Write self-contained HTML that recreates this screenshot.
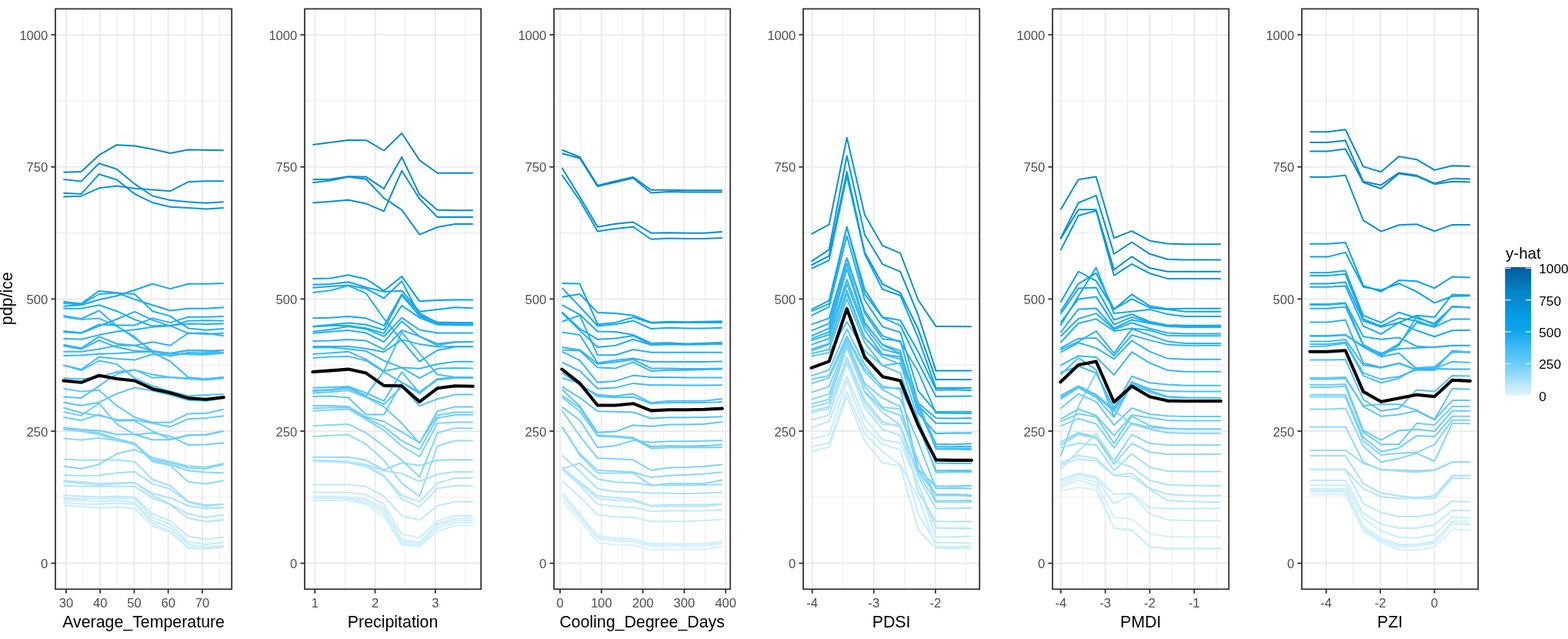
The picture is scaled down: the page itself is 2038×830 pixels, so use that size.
<!DOCTYPE html>
<html><head><meta charset="utf-8"><title>pdp/ice</title><style>html,body{margin:0;padding:0;background:#fff;width:2038px;height:830px;overflow:hidden}</style></head><body>
<svg width="2038" height="830" viewBox="0 0 2038 830" style="display:block">
<rect x="0" y="0" width="2038" height="830" fill="#fff"/>
<g><line x1="108.03" y1="11.5" x2="108.03" y2="765.3" stroke="#ebebeb" stroke-width="1.05"/><line x1="152.28" y1="11.5" x2="152.28" y2="765.3" stroke="#ebebeb" stroke-width="1.05"/><line x1="196.53" y1="11.5" x2="196.53" y2="765.3" stroke="#ebebeb" stroke-width="1.05"/><line x1="240.78" y1="11.5" x2="240.78" y2="765.3" stroke="#ebebeb" stroke-width="1.05"/><line x1="285.02" y1="11.5" x2="285.02" y2="765.3" stroke="#ebebeb" stroke-width="1.05"/><line x1="72.0" y1="645.80" x2="301.2" y2="645.80" stroke="#ebebeb" stroke-width="1.05"/><line x1="72.0" y1="474.20" x2="301.2" y2="474.20" stroke="#ebebeb" stroke-width="1.05"/><line x1="72.0" y1="302.60" x2="301.2" y2="302.60" stroke="#ebebeb" stroke-width="1.05"/><line x1="72.0" y1="131.00" x2="301.2" y2="131.00" stroke="#ebebeb" stroke-width="1.05"/><line x1="85.90" y1="11.5" x2="85.90" y2="765.3" stroke="#ebebeb" stroke-width="2.05"/><line x1="130.15" y1="11.5" x2="130.15" y2="765.3" stroke="#ebebeb" stroke-width="2.05"/><line x1="174.40" y1="11.5" x2="174.40" y2="765.3" stroke="#ebebeb" stroke-width="2.05"/><line x1="218.65" y1="11.5" x2="218.65" y2="765.3" stroke="#ebebeb" stroke-width="2.05"/><line x1="262.90" y1="11.5" x2="262.90" y2="765.3" stroke="#ebebeb" stroke-width="2.05"/><line x1="72.0" y1="731.60" x2="301.2" y2="731.60" stroke="#ebebeb" stroke-width="2.05"/><line x1="72.0" y1="560.00" x2="301.2" y2="560.00" stroke="#ebebeb" stroke-width="2.05"/><line x1="72.0" y1="388.40" x2="301.2" y2="388.40" stroke="#ebebeb" stroke-width="2.05"/><line x1="72.0" y1="216.80" x2="301.2" y2="216.80" stroke="#ebebeb" stroke-width="2.05"/><line x1="72.0" y1="45.20" x2="301.2" y2="45.20" stroke="#ebebeb" stroke-width="2.05"/></g>
<g><polyline points="82.4,223.7 105.6,223.1 128.7,201.4 151.9,188.2 175.0,189.5 198.2,193.8 221.3,199.0 244.5,194.4 267.6,194.9 290.8,195.3" fill="none" stroke="#048ace" stroke-width="2.0" stroke-linejoin="round" stroke-linecap="butt"/><polyline points="82.4,233.0 105.6,235.6 128.7,212.2 151.9,219.8 175.0,238.9 198.2,254.5 221.3,260.1 244.5,262.3 267.6,263.8 290.8,262.3" fill="none" stroke="#0592d8" stroke-width="2.0" stroke-linejoin="round" stroke-linecap="butt"/><polyline points="82.4,250.8 105.6,251.9 128.7,226.3 151.9,233.5 175.0,251.9 198.2,263.2 221.3,268.8 244.5,269.9 267.6,271.4 290.8,269.9" fill="none" stroke="#0594da" stroke-width="2.0" stroke-linejoin="round" stroke-linecap="butt"/><polyline points="82.4,255.6 105.6,254.7 128.7,244.3 151.9,241.5 175.0,244.7 198.2,246.5 221.3,248.2 244.5,236.3 267.6,235.2 290.8,235.2" fill="none" stroke="#0592d7" stroke-width="2.0" stroke-linejoin="round" stroke-linecap="butt"/><polyline points="82.4,397.8 105.6,396.2 128.7,389.3 151.9,384.3 175.0,376.7 198.2,368.7 221.3,375.1 244.5,368.7 267.6,368.7 290.8,368.0" fill="none" stroke="#13a7ee" stroke-width="2.0" stroke-linejoin="round" stroke-linecap="butt"/><polyline points="82.4,391.8 105.6,394.4 128.7,377.9 151.9,380.2 175.0,388.9 198.2,396.2 221.3,403.5 244.5,400.8 267.6,400.8 290.8,399.2" fill="none" stroke="#17a9ee" stroke-width="2.0" stroke-linejoin="round" stroke-linecap="butt"/><polyline points="82.4,393.9 105.6,395.5 128.7,382.0 151.9,380.6 175.0,382.0 198.2,404.2 221.3,410.6 244.5,426.4 267.6,428.7 290.8,427.1" fill="none" stroke="#20adf0" stroke-width="2.0" stroke-linejoin="round" stroke-linecap="butt"/><polyline points="82.4,400.8 105.6,400.8 128.7,396.2 151.9,404.2 175.0,415.0 198.2,423.6 221.3,422.5 244.5,420.4 267.6,420.9 290.8,420.4" fill="none" stroke="#21adf0" stroke-width="2.0" stroke-linejoin="round" stroke-linecap="butt"/><polyline points="82.4,409.9 105.6,414.0 128.7,403.5 151.9,423.6 175.0,439.2 198.2,455.7 221.3,459.1 244.5,455.0 267.6,455.7 290.8,455.0" fill="none" stroke="#31b4f2" stroke-width="2.0" stroke-linejoin="round" stroke-linecap="butt"/><polyline points="82.4,411.8 105.6,415.0 128.7,413.6 151.9,423.6 175.0,437.4 198.2,458.0 221.3,469.4 244.5,490.0 267.6,492.3 290.8,490.0" fill="none" stroke="#3fbaf3" stroke-width="2.0" stroke-linejoin="round" stroke-linecap="butt"/><polyline points="82.4,430.1 105.6,432.3 128.7,421.4 151.9,422.5 175.0,422.5 198.2,413.4 221.3,419.1 244.5,411.8 267.6,411.8 290.8,411.1" fill="none" stroke="#25aff0" stroke-width="2.0" stroke-linejoin="round" stroke-linecap="butt"/><polyline points="82.4,431.2 105.6,432.8 128.7,423.6 151.9,414.5 175.0,404.9 198.2,415.6 221.3,423.6 244.5,416.8 267.6,416.3 290.8,416.8" fill="none" stroke="#25aff0" stroke-width="2.0" stroke-linejoin="round" stroke-linecap="butt"/><polyline points="82.4,439.7 105.6,440.8 128.7,435.1 151.9,430.5 175.0,428.2 198.2,424.8 221.3,423.2 244.5,432.8 267.6,433.9 290.8,432.8" fill="none" stroke="#2bb1f1" stroke-width="2.0" stroke-linejoin="round" stroke-linecap="butt"/><polyline points="82.4,447.7 105.6,452.3 128.7,437.4 151.9,446.5 175.0,448.8 198.2,444.2 221.3,448.8 244.5,432.8 267.6,432.8 290.8,436.2" fill="none" stroke="#31b3f2" stroke-width="2.0" stroke-linejoin="round" stroke-linecap="butt"/><polyline points="82.4,449.3 105.6,453.4 128.7,442.0 151.9,451.1 175.0,455.7 198.2,456.8 221.3,459.1 244.5,455.2 267.6,455.2 290.8,458.0" fill="none" stroke="#36b6f2" stroke-width="2.0" stroke-linejoin="round" stroke-linecap="butt"/><polyline points="82.4,456.8 105.6,456.8 128.7,453.4 151.9,448.8 175.0,448.8 198.2,455.7 221.3,462.6 244.5,458.0 267.6,459.1 290.8,458.0" fill="none" stroke="#38b7f2" stroke-width="2.0" stroke-linejoin="round" stroke-linecap="butt"/><polyline points="82.4,462.1 105.6,461.4 128.7,459.8 151.9,459.1 175.0,457.5 198.2,456.8 221.3,459.1 244.5,460.3 267.6,460.7 290.8,458.4" fill="none" stroke="#39b7f3" stroke-width="2.0" stroke-linejoin="round" stroke-linecap="butt"/><polyline points="82.4,474.5 105.6,479.7 128.7,463.7 151.9,466.0 175.0,467.6 198.2,460.3 221.3,461.4 244.5,459.1 267.6,458.0 290.8,458.0" fill="none" stroke="#40bbf3" stroke-width="2.0" stroke-linejoin="round" stroke-linecap="butt"/><polyline points="82.4,491.2 105.6,492.3 128.7,490.0 151.9,483.1 175.0,480.4 198.2,486.6 221.3,490.0 244.5,491.2 267.6,492.3 290.8,490.0" fill="none" stroke="#48bef4" stroke-width="2.0" stroke-linejoin="round" stroke-linecap="butt"/><polyline points="82.4,555.2 105.6,557.9 128.7,559.3 151.9,564.3 175.0,564.3 198.2,571.2 221.3,571.2 244.5,565.5 267.6,564.8 290.8,559.7" fill="none" stroke="#6ecef6" stroke-width="2.0" stroke-linejoin="round" stroke-linecap="butt"/><polyline points="82.4,557.0 105.6,559.3 128.7,562.0 151.9,570.0 175.0,575.8 198.2,596.4 221.3,600.9 244.5,607.8 267.6,608.9 290.8,603.2" fill="none" stroke="#82d5f7" stroke-width="2.0" stroke-linejoin="round" stroke-linecap="butt"/><polyline points="82.4,557.9 105.6,560.2 128.7,564.3 151.9,572.3 175.0,576.9 198.2,598.6 221.3,603.2 244.5,611.2 267.6,613.5 290.8,614.2" fill="none" stroke="#85d6f7" stroke-width="2.0" stroke-linejoin="round" stroke-linecap="butt"/><polyline points="82.4,569.4 105.6,571.6 128.7,568.9 151.9,572.3 175.0,576.9 198.2,599.8 221.3,604.4 244.5,626.1 267.6,628.4 290.8,624.3" fill="none" stroke="#8cd8f7" stroke-width="2.0" stroke-linejoin="round" stroke-linecap="butt"/><polyline points="82.4,596.4 105.6,597.7 128.7,597.5 151.9,597.5 175.0,599.8 198.2,622.7 221.3,630.7 244.5,651.3 267.6,655.9 290.8,654.7" fill="none" stroke="#a0dff8" stroke-width="2.0" stroke-linejoin="round" stroke-linecap="butt"/><polyline points="82.4,605.5 105.6,608.9 128.7,603.2 151.9,589.5 175.0,583.8 198.2,594.1 221.3,599.8 244.5,605.5 267.6,606.7 290.8,602.1" fill="none" stroke="#87d6f7" stroke-width="2.0" stroke-linejoin="round" stroke-linecap="butt"/><polyline points="82.4,617.0 105.6,618.1 128.7,617.4 151.9,614.2 175.0,612.8 198.2,628.4 221.3,635.3 244.5,652.4 267.6,658.1 290.8,654.7" fill="none" stroke="#a5e0f8" stroke-width="2.0" stroke-linejoin="round" stroke-linecap="butt"/><polyline points="82.4,624.3 105.6,626.1 128.7,627.9 151.9,627.3 175.0,626.6 198.2,641.0 221.3,646.7 244.5,657.0 267.6,660.4 290.8,659.3" fill="none" stroke="#a9e2f9" stroke-width="2.0" stroke-linejoin="round" stroke-linecap="butt"/><polyline points="82.4,625.7 105.6,627.9 128.7,630.2 151.9,628.4 175.0,627.3 198.2,643.3 221.3,654.7 244.5,667.3 267.6,671.9 290.8,668.4" fill="none" stroke="#afe4f9" stroke-width="2.0" stroke-linejoin="round" stroke-linecap="butt"/><polyline points="82.4,630.7 105.6,631.8 128.7,631.8 151.9,631.8 175.0,631.8 198.2,646.7 221.3,655.9 244.5,673.0 267.6,677.6 290.8,675.3" fill="none" stroke="#b2e5f9" stroke-width="2.0" stroke-linejoin="round" stroke-linecap="butt"/><polyline points="82.4,643.3 105.6,644.4 128.7,645.6 151.9,644.4 175.0,645.6 198.2,667.3 221.3,676.5 244.5,696.6 267.6,700.5 290.8,697.5" fill="none" stroke="#c0e9fa" stroke-width="2.0" stroke-linejoin="round" stroke-linecap="butt"/><polyline points="82.4,646.7 105.6,647.8 128.7,647.8 151.9,646.7 175.0,647.8 198.2,671.9 221.3,681.0 244.5,703.9 267.6,707.3 290.8,704.4" fill="none" stroke="#c4ebfb" stroke-width="2.0" stroke-linejoin="round" stroke-linecap="butt"/><polyline points="82.4,649.0 105.6,650.1 128.7,651.3 151.9,650.1 175.0,652.4 198.2,676.5 221.3,685.6 244.5,707.3 267.6,710.8 290.8,708.5" fill="none" stroke="#c6ebfb" stroke-width="2.0" stroke-linejoin="round" stroke-linecap="butt"/><polyline points="82.4,652.4 105.6,654.7 128.7,654.7 151.9,653.6 175.0,654.7 198.2,679.9 221.3,690.2 244.5,710.8 267.6,713.1 290.8,710.3" fill="none" stroke="#c8ecfb" stroke-width="2.0" stroke-linejoin="round" stroke-linecap="butt"/><polyline points="82.4,656.3 105.6,658.1 128.7,659.7 151.9,658.6 175.0,660.4 198.2,683.3 221.3,691.3 244.5,711.9 267.6,713.1 290.8,710.8" fill="none" stroke="#c9ecfb" stroke-width="2.0" stroke-linejoin="round" stroke-linecap="butt"/><polyline points="82.4,504.7 105.6,508.6 128.7,506.7 151.9,527.2 175.0,541.9 198.2,548.7 221.3,548.7 244.5,537.4 267.6,536.8 290.8,531.8" fill="none" stroke="#5fc8f5" stroke-width="2.0" stroke-linejoin="round" stroke-linecap="butt"/><polyline points="82.4,515.4 105.6,516.9 128.7,501.3 151.9,485.6 175.0,480.4 198.2,490.6 221.3,490.0 244.5,492.3 267.6,493.4 290.8,491.2" fill="none" stroke="#50c1f4" stroke-width="2.0" stroke-linejoin="round" stroke-linecap="butt"/><polyline points="82.4,522.7 105.6,526.7 128.7,522.7 151.9,511.4 175.0,503.5 198.2,507.5 221.3,513.1 244.5,519.9 267.6,520.7 290.8,517.6" fill="none" stroke="#57c4f5" stroke-width="2.0" stroke-linejoin="round" stroke-linecap="butt"/><polyline points="82.4,529.5 105.6,536.3 128.7,539.7 151.9,545.3 175.0,545.3 198.2,549.8 221.3,554.3 244.5,544.2 267.6,543.0 290.8,540.2" fill="none" stroke="#64caf6" stroke-width="2.0" stroke-linejoin="round" stroke-linecap="butt"/><polyline points="82.4,535.1 105.6,539.7 128.7,523.9 151.9,550.9 175.0,564.5 198.2,562.2 221.3,566.7 244.5,578.0 267.6,577.5 290.8,575.2" fill="none" stroke="#6ecff6" stroke-width="2.0" stroke-linejoin="round" stroke-linecap="butt"/><polyline points="82.4,541.9 105.6,545.9 128.7,538.5 151.9,546.4 175.0,546.4 198.2,560.0 221.3,570.7 244.5,565.0 267.6,564.5 290.8,560.0" fill="none" stroke="#6bcdf6" stroke-width="2.0" stroke-linejoin="round" stroke-linecap="butt"/><polyline points="82.4,474.2 105.6,481.0 128.7,468.6 151.9,473.1 175.0,491.1 198.2,501.3 221.3,508.1 244.5,514.3 267.6,513.1 290.8,512.0" fill="none" stroke="#4fc1f4" stroke-width="2.0" stroke-linejoin="round" stroke-linecap="butt"/></g>
<polyline points="82.4,494.5 105.6,496.8 128.7,487.7 151.9,492.0 175.0,494.5 198.2,505.2 221.3,510.3 244.5,517.1 267.6,518.8 290.8,516.0" fill="none" stroke="#000" stroke-width="4.1" stroke-linejoin="round" stroke-linecap="round"/>
<rect x="72.0" y="11.5" width="229.2" height="753.8" fill="none" stroke="#333" stroke-width="1.8"/>
<g font-family='"Liberation Sans", Arial, sans-serif' font-size="16.6" fill="#4d4d4d"><line x1="66.40" y1="731.60" x2="72.0" y2="731.60" stroke="#333" stroke-width="1.8"/><text x="62.30" y="738.10" text-anchor="end">0</text><line x1="66.40" y1="560.00" x2="72.0" y2="560.00" stroke="#333" stroke-width="1.8"/><text x="62.30" y="566.50" text-anchor="end">250</text><line x1="66.40" y1="388.40" x2="72.0" y2="388.40" stroke="#333" stroke-width="1.8"/><text x="62.30" y="394.90" text-anchor="end">500</text><line x1="66.40" y1="216.80" x2="72.0" y2="216.80" stroke="#333" stroke-width="1.8"/><text x="62.30" y="223.30" text-anchor="end">750</text><line x1="66.40" y1="45.20" x2="72.0" y2="45.20" stroke="#333" stroke-width="1.8"/><text x="62.30" y="51.70" text-anchor="end">1000</text><line x1="85.90" y1="765.3" x2="85.90" y2="770.80" stroke="#333" stroke-width="1.8"/><text x="85.90" y="789.0" text-anchor="middle">30</text><line x1="130.15" y1="765.3" x2="130.15" y2="770.80" stroke="#333" stroke-width="1.8"/><text x="130.15" y="789.0" text-anchor="middle">40</text><line x1="174.40" y1="765.3" x2="174.40" y2="770.80" stroke="#333" stroke-width="1.8"/><text x="174.40" y="789.0" text-anchor="middle">50</text><line x1="218.65" y1="765.3" x2="218.65" y2="770.80" stroke="#333" stroke-width="1.8"/><text x="218.65" y="789.0" text-anchor="middle">60</text><line x1="262.90" y1="765.3" x2="262.90" y2="770.80" stroke="#333" stroke-width="1.8"/><text x="262.90" y="789.0" text-anchor="middle">70</text></g>
<text x="186.60" y="814.8" text-anchor="middle" font-family='"Liberation Sans", Arial, sans-serif' font-size="21.35" fill="#000">Average_Temperature</text>
<g><line x1="448.43" y1="11.5" x2="448.43" y2="765.3" stroke="#ebebeb" stroke-width="1.05"/><line x1="526.67" y1="11.5" x2="526.67" y2="765.3" stroke="#ebebeb" stroke-width="1.05"/><line x1="604.92" y1="11.5" x2="604.92" y2="765.3" stroke="#ebebeb" stroke-width="1.05"/><line x1="396.0" y1="645.80" x2="625.2" y2="645.80" stroke="#ebebeb" stroke-width="1.05"/><line x1="396.0" y1="474.20" x2="625.2" y2="474.20" stroke="#ebebeb" stroke-width="1.05"/><line x1="396.0" y1="302.60" x2="625.2" y2="302.60" stroke="#ebebeb" stroke-width="1.05"/><line x1="396.0" y1="131.00" x2="625.2" y2="131.00" stroke="#ebebeb" stroke-width="1.05"/><line x1="409.30" y1="11.5" x2="409.30" y2="765.3" stroke="#ebebeb" stroke-width="2.05"/><line x1="487.55" y1="11.5" x2="487.55" y2="765.3" stroke="#ebebeb" stroke-width="2.05"/><line x1="565.80" y1="11.5" x2="565.80" y2="765.3" stroke="#ebebeb" stroke-width="2.05"/><line x1="396.0" y1="731.60" x2="625.2" y2="731.60" stroke="#ebebeb" stroke-width="2.05"/><line x1="396.0" y1="560.00" x2="625.2" y2="560.00" stroke="#ebebeb" stroke-width="2.05"/><line x1="396.0" y1="388.40" x2="625.2" y2="388.40" stroke="#ebebeb" stroke-width="2.05"/><line x1="396.0" y1="216.80" x2="625.2" y2="216.80" stroke="#ebebeb" stroke-width="2.05"/><line x1="396.0" y1="45.20" x2="625.2" y2="45.20" stroke="#ebebeb" stroke-width="2.05"/></g>
<g><polyline points="406.4,187.9 429.6,184.9 452.7,182.0 475.9,182.2 499.0,195.5 522.2,173.0 545.3,208.1 568.5,224.8 591.6,224.8 614.8,224.8" fill="none" stroke="#0489cd" stroke-width="2.0" stroke-linejoin="round" stroke-linecap="butt"/><polyline points="406.4,233.2 429.6,232.8 452.7,229.3 475.9,229.8 499.0,245.1 522.2,203.9 545.3,252.7 568.5,272.8 591.6,273.3 614.8,273.3" fill="none" stroke="#048bcf" stroke-width="2.0" stroke-linejoin="round" stroke-linecap="butt"/><polyline points="406.4,237.3 429.6,234.4 452.7,229.8 475.9,232.8 499.0,257.3 522.2,272.6 545.3,304.6 568.5,295.0 591.6,290.9 614.8,290.9" fill="none" stroke="#0591d7" stroke-width="2.0" stroke-linejoin="round" stroke-linecap="butt"/><polyline points="406.4,263.4 429.6,261.8 452.7,259.8 475.9,264.6 499.0,274.4 522.2,221.8 545.3,258.4 568.5,282.0 591.6,282.0 614.8,282.0" fill="none" stroke="#048cd1" stroke-width="2.0" stroke-linejoin="round" stroke-linecap="butt"/><polyline points="406.4,503.7 429.6,503.0 452.7,502.0 475.9,510.4 499.0,520.8 522.2,483.2 545.3,510.3 568.5,493.4 591.6,491.1 614.8,491.1" fill="none" stroke="#50c1f4" stroke-width="2.0" stroke-linejoin="round" stroke-linecap="butt"/><polyline points="406.4,507.0 429.6,505.9 452.7,502.9 475.9,513.9 499.0,481.9 522.2,431.5 545.3,459.0 568.5,486.5 591.6,489.9 614.8,489.9" fill="none" stroke="#49bef4" stroke-width="2.0" stroke-linejoin="round" stroke-linecap="butt"/><polyline points="406.4,510.4 429.6,509.3 452.7,507.0 475.9,516.2 499.0,528.4 522.2,549.8 545.3,575.8 568.5,534.0 591.6,528.4 614.8,528.4" fill="none" stroke="#67ccf6" stroke-width="2.0" stroke-linejoin="round" stroke-linecap="butt"/><polyline points="406.4,515.1 429.6,514.4 452.7,516.5 475.9,538.5 499.0,538.5 522.2,496.8 545.3,511.4 568.5,492.3 591.6,490.0 614.8,490.0" fill="none" stroke="#5fc8f5" stroke-width="2.0" stroke-linejoin="round" stroke-linecap="butt"/><polyline points="406.4,526.9 429.6,526.9 452.7,528.0 475.9,541.7 499.0,547.5 522.2,561.2 545.3,574.9 568.5,539.5 591.6,535.6 614.8,535.6" fill="none" stroke="#6ccef6" stroke-width="2.0" stroke-linejoin="round" stroke-linecap="butt"/><polyline points="406.4,530.3 429.6,529.6 452.7,529.2 475.9,542.9 499.0,554.3 522.2,572.6 545.3,584.1 568.5,542.9 591.6,538.8 614.8,538.8" fill="none" stroke="#71cff6" stroke-width="2.0" stroke-linejoin="round" stroke-linecap="butt"/><polyline points="406.4,533.7 429.6,532.6 452.7,531.4 475.9,545.2 499.0,558.9 522.2,579.5 545.3,593.2 568.5,549.7 591.6,548.6 614.8,548.6" fill="none" stroke="#7fd4f7" stroke-width="2.0" stroke-linejoin="round" stroke-linecap="butt"/><polyline points="406.4,553.2 429.6,552.0 452.7,550.9 475.9,562.3 499.0,579.5 522.2,597.8 545.3,619.5 568.5,562.3 591.6,555.9 614.8,556.6" fill="none" stroke="#85d6f7" stroke-width="2.0" stroke-linejoin="round" stroke-linecap="butt"/><polyline points="406.4,566.9 429.6,565.8 452.7,564.6 475.9,577.2 499.0,597.8 522.2,627.6 545.3,644.7 568.5,579.5 591.6,572.2 614.8,572.6" fill="none" stroke="#95dbf8" stroke-width="2.0" stroke-linejoin="round" stroke-linecap="butt"/><polyline points="406.4,593.7 429.6,593.9 452.7,593.7 475.9,597.8 499.0,610.4 522.2,601.2 545.3,604.7 568.5,597.8 591.6,597.3 614.8,597.3" fill="none" stroke="#91daf8" stroke-width="2.0" stroke-linejoin="round" stroke-linecap="butt"/><polyline points="406.4,597.8 429.6,598.3 452.7,599.6 475.9,603.5 499.0,611.5 522.2,615.0 545.3,625.3 568.5,616.1 591.6,612.7 614.8,613.1" fill="none" stroke="#a6e1f9" stroke-width="2.0" stroke-linejoin="round" stroke-linecap="butt"/><polyline points="406.4,598.3 429.6,598.9 452.7,600.1 475.9,604.7 499.0,617.3 522.2,643.6 545.3,651.6 568.5,627.6 591.6,620.7 614.8,621.1" fill="none" stroke="#afe4f9" stroke-width="2.0" stroke-linejoin="round" stroke-linecap="butt"/><polyline points="406.4,599.6 429.6,600.1 452.7,601.2 475.9,606.5 499.0,618.9 522.2,648.1 545.3,658.4 568.5,634.4 591.6,631.0 614.8,631.0" fill="none" stroke="#b5e6fa" stroke-width="2.0" stroke-linejoin="round" stroke-linecap="butt"/><polyline points="406.4,629.4 429.6,629.4 452.7,629.4 475.9,632.1 499.0,644.7 522.2,669.9 545.3,675.6 568.5,657.3 591.6,651.6 614.8,652.0" fill="none" stroke="#bde8fa" stroke-width="2.0" stroke-linejoin="round" stroke-linecap="butt"/><polyline points="406.4,639.5 429.6,639.5 452.7,639.5 475.9,642.4 499.0,655.0 522.2,693.9 545.3,698.5 568.5,676.8 591.6,669.9 614.8,669.9" fill="none" stroke="#c8ecfb" stroke-width="2.0" stroke-linejoin="round" stroke-linecap="butt"/><polyline points="406.4,644.7 429.6,644.7 452.7,645.4 475.9,648.1 499.0,659.6 522.2,700.8 545.3,704.2 568.5,680.2 591.6,673.3 614.8,672.9" fill="none" stroke="#ceeefb" stroke-width="2.0" stroke-linejoin="round" stroke-linecap="butt"/><polyline points="406.4,645.9 429.6,645.9 452.7,646.3 475.9,650.4 499.0,663.0 522.2,703.1 545.3,706.5 568.5,682.5 591.6,675.6 614.8,676.3" fill="none" stroke="#d0effc" stroke-width="2.0" stroke-linejoin="round" stroke-linecap="butt"/><polyline points="406.4,647.0 429.6,647.0 452.7,648.1 475.9,652.7 499.0,666.5 522.2,705.4 545.3,708.8 568.5,685.9 591.6,679.0 614.8,679.0" fill="none" stroke="#d0effc" stroke-width="2.0" stroke-linejoin="round" stroke-linecap="butt"/><polyline points="406.4,650.0 429.6,650.0 452.7,650.0 475.9,655.0 499.0,671.0 522.2,707.6 545.3,709.9 568.5,690.5 591.6,682.5 614.8,682.5" fill="none" stroke="#d1effc" stroke-width="2.0" stroke-linejoin="round" stroke-linecap="butt"/><polyline points="406.4,361.9 429.6,361.4 452.7,357.2 475.9,362.5 499.0,377.7 522.2,359.1 545.3,391.3 568.5,389.9 591.6,389.6 614.8,389.6" fill="none" stroke="#07a2eb" stroke-width="2.0" stroke-linejoin="round" stroke-linecap="butt"/><polyline points="406.4,369.8 429.6,368.9 452.7,366.2 475.9,373.2 499.0,378.9 522.2,377.7 545.3,404.8 568.5,402.0 591.6,399.2 614.8,400.3" fill="none" stroke="#0ca4ed" stroke-width="2.0" stroke-linejoin="round" stroke-linecap="butt"/><polyline points="406.4,373.8 429.6,372.1 452.7,370.4 475.9,374.9 499.0,387.3 522.2,365.3 545.3,409.3 568.5,418.4 591.6,418.9 614.8,418.9" fill="none" stroke="#11a7ed" stroke-width="2.0" stroke-linejoin="round" stroke-linecap="butt"/><polyline points="406.4,380.0 429.6,377.2 452.7,371.0 475.9,381.1 499.0,413.8 522.2,442.1 545.3,469.7 568.5,455.0 591.6,450.5 614.8,450.5" fill="none" stroke="#28b0f1" stroke-width="2.0" stroke-linejoin="round" stroke-linecap="butt"/><polyline points="406.4,413.3 429.6,412.7 452.7,411.0 475.9,413.3 499.0,422.9 522.2,382.2 545.3,406.5 568.5,419.5 591.6,419.5 614.8,419.5" fill="none" stroke="#17a9ee" stroke-width="2.0" stroke-linejoin="round" stroke-linecap="butt"/><polyline points="406.4,424.0 429.6,421.7 452.7,419.5 475.9,421.7 499.0,428.5 522.2,383.4 545.3,410.5 568.5,420.6 591.6,421.2 614.8,421.2" fill="none" stroke="#19aaef" stroke-width="2.0" stroke-linejoin="round" stroke-linecap="butt"/><polyline points="406.4,424.6 429.6,422.9 452.7,422.9 475.9,426.3 499.0,433.0 522.2,396.9 545.3,412.7 568.5,421.7 591.6,422.3 614.8,422.6" fill="none" stroke="#1eacef" stroke-width="2.0" stroke-linejoin="round" stroke-linecap="butt"/><polyline points="406.4,430.8 429.6,427.9 452.7,424.0 475.9,427.4 499.0,437.0 522.2,412.7 545.3,428.5 568.5,432.5 591.6,432.5 614.8,432.5" fill="none" stroke="#23aef0" stroke-width="2.0" stroke-linejoin="round" stroke-linecap="butt"/><polyline points="406.4,433.0 429.6,430.8 452.7,429.1 475.9,432.5 499.0,444.3 522.2,417.2 545.3,437.0 568.5,446.6 591.6,444.3 614.8,444.0" fill="none" stroke="#27aff0" stroke-width="2.0" stroke-linejoin="round" stroke-linecap="butt"/><polyline points="406.4,443.1 429.6,442.6 452.7,440.9 475.9,442.6 499.0,453.9 522.2,429.0 545.3,436.9 568.5,448.8 591.6,444.3 614.8,443.9" fill="none" stroke="#2db2f1" stroke-width="2.0" stroke-linejoin="round" stroke-linecap="butt"/><polyline points="406.4,449.9 429.6,449.9 452.7,449.9 475.9,452.7 499.0,457.2 522.2,441.4 545.3,447.1 568.5,450.5 591.6,449.9 614.8,449.9" fill="none" stroke="#30b3f2" stroke-width="2.0" stroke-linejoin="round" stroke-linecap="butt"/><polyline points="406.4,451.6 429.6,451.6 452.7,453.3 475.9,456.1 499.0,468.5 522.2,477.6 545.3,478.7 568.5,473.0 591.6,469.7 614.8,469.7" fill="none" stroke="#35b5f2" stroke-width="2.0" stroke-linejoin="round" stroke-linecap="butt"/><polyline points="406.4,460.1 429.6,458.4 452.7,456.7 475.9,466.8 499.0,482.1 522.2,477.6 545.3,491.1 568.5,478.7 591.6,478.1 614.8,478.5" fill="none" stroke="#3dbaf3" stroke-width="2.0" stroke-linejoin="round" stroke-linecap="butt"/><polyline points="406.4,465.1 429.6,463.4 452.7,462.9 475.9,468.5 499.0,483.2 522.2,496.7 545.3,509.2 568.5,492.2 591.6,490.0 614.8,490.0" fill="none" stroke="#47bdf4" stroke-width="2.0" stroke-linejoin="round" stroke-linecap="butt"/><polyline points="406.4,508.1 429.6,506.9 452.7,504.4 475.9,515.1 499.0,525.0 522.2,502.4 545.3,527.2 568.5,518.2 591.6,512.6 614.8,512.6" fill="none" stroke="#5ac5f5" stroke-width="2.0" stroke-linejoin="round" stroke-linecap="butt"/></g>
<polyline points="406.4,483.0 429.6,481.4 452.7,479.6 475.9,484.6 499.0,500.9 522.2,501.3 545.3,521.9 568.5,504.3 591.6,501.3 614.8,501.8" fill="none" stroke="#000" stroke-width="4.1" stroke-linejoin="round" stroke-linecap="round"/>
<rect x="396.0" y="11.5" width="229.2" height="753.8" fill="none" stroke="#333" stroke-width="1.8"/>
<g font-family='"Liberation Sans", Arial, sans-serif' font-size="16.6" fill="#4d4d4d"><line x1="390.40" y1="731.60" x2="396.0" y2="731.60" stroke="#333" stroke-width="1.8"/><text x="386.30" y="738.10" text-anchor="end">0</text><line x1="390.40" y1="560.00" x2="396.0" y2="560.00" stroke="#333" stroke-width="1.8"/><text x="386.30" y="566.50" text-anchor="end">250</text><line x1="390.40" y1="388.40" x2="396.0" y2="388.40" stroke="#333" stroke-width="1.8"/><text x="386.30" y="394.90" text-anchor="end">500</text><line x1="390.40" y1="216.80" x2="396.0" y2="216.80" stroke="#333" stroke-width="1.8"/><text x="386.30" y="223.30" text-anchor="end">750</text><line x1="390.40" y1="45.20" x2="396.0" y2="45.20" stroke="#333" stroke-width="1.8"/><text x="386.30" y="51.70" text-anchor="end">1000</text><line x1="409.30" y1="765.3" x2="409.30" y2="770.80" stroke="#333" stroke-width="1.8"/><text x="409.30" y="789.0" text-anchor="middle">1</text><line x1="487.55" y1="765.3" x2="487.55" y2="770.80" stroke="#333" stroke-width="1.8"/><text x="487.55" y="789.0" text-anchor="middle">2</text><line x1="565.80" y1="765.3" x2="565.80" y2="770.80" stroke="#333" stroke-width="1.8"/><text x="565.80" y="789.0" text-anchor="middle">3</text></g>
<text x="510.60" y="814.8" text-anchor="middle" font-family='"Liberation Sans", Arial, sans-serif' font-size="21.35" fill="#000">Precipitation</text>
<g><line x1="754.81" y1="11.5" x2="754.81" y2="765.3" stroke="#ebebeb" stroke-width="1.05"/><line x1="808.64" y1="11.5" x2="808.64" y2="765.3" stroke="#ebebeb" stroke-width="1.05"/><line x1="862.47" y1="11.5" x2="862.47" y2="765.3" stroke="#ebebeb" stroke-width="1.05"/><line x1="916.30" y1="11.5" x2="916.30" y2="765.3" stroke="#ebebeb" stroke-width="1.05"/><line x1="720.0" y1="645.80" x2="949.2" y2="645.80" stroke="#ebebeb" stroke-width="1.05"/><line x1="720.0" y1="474.20" x2="949.2" y2="474.20" stroke="#ebebeb" stroke-width="1.05"/><line x1="720.0" y1="302.60" x2="949.2" y2="302.60" stroke="#ebebeb" stroke-width="1.05"/><line x1="720.0" y1="131.00" x2="949.2" y2="131.00" stroke="#ebebeb" stroke-width="1.05"/><line x1="727.90" y1="11.5" x2="727.90" y2="765.3" stroke="#ebebeb" stroke-width="2.05"/><line x1="781.73" y1="11.5" x2="781.73" y2="765.3" stroke="#ebebeb" stroke-width="2.05"/><line x1="835.56" y1="11.5" x2="835.56" y2="765.3" stroke="#ebebeb" stroke-width="2.05"/><line x1="889.39" y1="11.5" x2="889.39" y2="765.3" stroke="#ebebeb" stroke-width="2.05"/><line x1="943.22" y1="11.5" x2="943.22" y2="765.3" stroke="#ebebeb" stroke-width="2.05"/><line x1="720.0" y1="731.60" x2="949.2" y2="731.60" stroke="#ebebeb" stroke-width="2.05"/><line x1="720.0" y1="560.00" x2="949.2" y2="560.00" stroke="#ebebeb" stroke-width="2.05"/><line x1="720.0" y1="388.40" x2="949.2" y2="388.40" stroke="#ebebeb" stroke-width="2.05"/><line x1="720.0" y1="216.80" x2="949.2" y2="216.80" stroke="#ebebeb" stroke-width="2.05"/><line x1="720.0" y1="45.20" x2="949.2" y2="45.20" stroke="#ebebeb" stroke-width="2.05"/></g>
<g><polyline points="730.4,194.7 753.6,203.9 776.7,240.9 799.9,235.2 823.0,230.0 846.2,246.7 869.3,246.7 892.5,247.3 915.6,247.3 938.8,247.3" fill="none" stroke="#048bcf" stroke-width="2.0" stroke-linejoin="round" stroke-linecap="butt"/><polyline points="730.4,199.3 753.6,205.5 776.7,242.1 799.9,236.8 823.0,231.3 846.2,250.5 869.3,248.9 892.5,249.6 915.6,249.6 938.8,249.6" fill="none" stroke="#048bcf" stroke-width="2.0" stroke-linejoin="round" stroke-linecap="butt"/><polyline points="730.4,218.1 753.6,255.8 776.7,294.7 799.9,290.8 823.0,288.5 846.2,302.7 869.3,302.3 892.5,302.7 915.6,302.7 938.8,301.1" fill="none" stroke="#048ed2" stroke-width="2.0" stroke-linejoin="round" stroke-linecap="butt"/><polyline points="730.4,227.2 753.6,260.4 776.7,300.4 799.9,297.0 823.0,294.7 846.2,310.7 869.3,309.6 892.5,310.0 915.6,310.0 938.8,308.9" fill="none" stroke="#0696dd" stroke-width="2.0" stroke-linejoin="round" stroke-linecap="butt"/><polyline points="730.4,367.9 753.6,368.6 776.7,421.2 799.9,418.9 823.0,412.1 846.2,419.6 869.3,418.9 892.5,418.9 915.6,418.9 938.8,418.9" fill="none" stroke="#10a6ed" stroke-width="2.0" stroke-linejoin="round" stroke-linecap="butt"/><polyline points="730.4,373.9 753.6,398.4 776.7,423.5 799.9,421.2 823.0,416.7 846.2,427.0 869.3,425.8 892.5,426.5 915.6,426.5 938.8,425.8" fill="none" stroke="#16a8ee" stroke-width="2.0" stroke-linejoin="round" stroke-linecap="butt"/><polyline points="730.4,385.8 753.6,381.9 776.7,405.9 799.9,407.0 823.0,409.8 846.2,418.9 869.3,417.8 892.5,418.3 915.6,417.8 938.8,417.3" fill="none" stroke="#0ba4ec" stroke-width="2.0" stroke-linejoin="round" stroke-linecap="butt"/><polyline points="730.4,396.1 753.6,408.6 776.7,430.4 799.9,431.1 823.0,435.0 846.2,445.7 869.3,445.3 892.5,446.4 915.6,445.7 938.8,444.8" fill="none" stroke="#1babef" stroke-width="2.0" stroke-linejoin="round" stroke-linecap="butt"/><polyline points="730.4,405.2 753.6,427.0 776.7,440.7 799.9,439.5 823.0,436.1 846.2,447.6 869.3,446.4 892.5,447.6 915.6,447.6 938.8,446.4" fill="none" stroke="#1dabef" stroke-width="2.0" stroke-linejoin="round" stroke-linecap="butt"/><polyline points="730.4,406.4 753.6,429.2 776.7,451.0 799.9,448.7 823.0,440.7 846.2,448.0 869.3,447.6 892.5,447.6 915.6,447.1 938.8,447.1" fill="none" stroke="#23aef0" stroke-width="2.0" stroke-linejoin="round" stroke-linecap="butt"/><polyline points="730.4,417.8 753.6,409.8 776.7,461.3 799.9,461.3 823.0,454.0 846.2,457.8 869.3,457.8 892.5,457.8 915.6,457.8 938.8,457.8" fill="none" stroke="#28b0f1" stroke-width="2.0" stroke-linejoin="round" stroke-linecap="butt"/><polyline points="730.4,431.5 753.6,435.0 776.7,471.6 799.9,468.1 823.0,465.4 846.2,470.0 869.3,470.0 892.5,470.0 915.6,470.0 938.8,469.5" fill="none" stroke="#2db2f1" stroke-width="2.0" stroke-linejoin="round" stroke-linecap="butt"/><polyline points="730.4,451.0 753.6,454.4 776.7,472.7 799.9,470.4 823.0,467.0 846.2,478.4 869.3,478.4 892.5,479.1 915.6,479.1 938.8,478.4" fill="none" stroke="#31b4f2" stroke-width="2.0" stroke-linejoin="round" stroke-linecap="butt"/><polyline points="730.4,454.4 753.6,455.6 776.7,477.3 799.9,478.4 823.0,470.4 846.2,481.9 869.3,480.7 892.5,480.7 915.6,480.0 938.8,479.6" fill="none" stroke="#34b5f2" stroke-width="2.0" stroke-linejoin="round" stroke-linecap="butt"/><polyline points="730.4,456.7 753.6,468.1 776.7,496.8 799.9,495.1 823.0,487.6 846.2,489.9 869.3,489.9 892.5,490.6 915.6,490.6 938.8,490.6" fill="none" stroke="#38b7f3" stroke-width="2.0" stroke-linejoin="round" stroke-linecap="butt"/><polyline points="730.4,470.4 753.6,481.9 776.7,504.8 799.9,503.6 823.0,497.9 846.2,500.2 869.3,500.2 892.5,500.6 915.6,500.6 938.8,500.2" fill="none" stroke="#3fbaf3" stroke-width="2.0" stroke-linejoin="round" stroke-linecap="butt"/><polyline points="730.4,484.2 753.6,500.2 776.7,512.8 799.9,514.4 823.0,511.6 846.2,523.1 869.3,520.8 892.5,520.8 915.6,520.8 938.8,518.0" fill="none" stroke="#4bbff4" stroke-width="2.0" stroke-linejoin="round" stroke-linecap="butt"/><polyline points="730.4,491.0 753.6,497.9 776.7,515.1 799.9,516.2 823.0,515.7 846.2,524.2 869.3,523.1 892.5,523.1 915.6,523.1 938.8,521.9" fill="none" stroke="#4dc0f4" stroke-width="2.0" stroke-linejoin="round" stroke-linecap="butt"/><polyline points="730.4,502.3 753.6,516.5 776.7,534.3 799.9,534.8 823.0,535.5 846.2,543.5 869.3,542.3 892.5,542.3 915.6,541.9 938.8,541.2" fill="none" stroke="#55c3f5" stroke-width="2.0" stroke-linejoin="round" stroke-linecap="butt"/><polyline points="730.4,505.7 753.6,527.5 776.7,561.8 799.9,560.6 823.0,552.2 846.2,553.8 869.3,551.5 892.5,551.5 915.6,550.8 938.8,548.1" fill="none" stroke="#5fc8f5" stroke-width="2.0" stroke-linejoin="round" stroke-linecap="butt"/><polyline points="730.4,513.7 753.6,529.7 776.7,565.2 799.9,566.4 823.0,568.6 846.2,580.1 869.3,578.9 892.5,579.6 915.6,578.9 938.8,577.8" fill="none" stroke="#68ccf6" stroke-width="2.0" stroke-linejoin="round" stroke-linecap="butt"/><polyline points="730.4,516.0 753.6,534.3 776.7,566.4 799.9,567.5 823.0,569.8 846.2,582.4 869.3,581.2 892.5,581.2 915.6,581.2 938.8,581.2" fill="none" stroke="#72d0f6" stroke-width="2.0" stroke-linejoin="round" stroke-linecap="butt"/><polyline points="730.4,528.6 753.6,545.8 776.7,581.2 799.9,578.9 823.0,572.1 846.2,574.4 869.3,573.2 892.5,573.2 915.6,572.8 938.8,572.1" fill="none" stroke="#70cff6" stroke-width="2.0" stroke-linejoin="round" stroke-linecap="butt"/><polyline points="730.4,533.2 753.6,566.4 776.7,595.0 799.9,596.1 823.0,597.3 846.2,611.0 869.3,607.6 892.5,607.1 915.6,605.7 938.8,603.4" fill="none" stroke="#7ed3f7" stroke-width="2.0" stroke-linejoin="round" stroke-linecap="butt"/><polyline points="730.4,553.8 753.6,589.2 776.7,611.0 799.9,612.1 823.0,613.3 846.2,620.1 869.3,617.8 892.5,616.7 915.6,615.6 938.8,613.3" fill="none" stroke="#8cd8f7" stroke-width="2.0" stroke-linejoin="round" stroke-linecap="butt"/><polyline points="730.4,554.9 753.6,591.5 776.7,614.4 799.9,614.4 823.0,614.4 846.2,630.4 869.3,628.1 892.5,628.1 915.6,628.1 938.8,623.6" fill="none" stroke="#91daf8" stroke-width="2.0" stroke-linejoin="round" stroke-linecap="butt"/><polyline points="730.4,608.6 753.6,601.7 776.7,622.3 799.9,626.2 823.0,626.9 846.2,630.3 869.3,629.9 892.5,630.3 915.6,629.9 938.8,629.2" fill="none" stroke="#98dcf8" stroke-width="2.0" stroke-linejoin="round" stroke-linecap="butt"/><polyline points="730.4,591.4 753.6,612.0 776.7,634.9 799.9,638.4 823.0,639.0 846.2,640.6 869.3,640.6 892.5,641.3 915.6,640.6 938.8,639.5" fill="none" stroke="#a7e1f9" stroke-width="2.0" stroke-linejoin="round" stroke-linecap="butt"/><polyline points="730.4,607.5 753.6,625.8 776.7,644.1 799.9,646.4 823.0,648.6 846.2,656.7 869.3,655.5 892.5,655.5 915.6,655.5 938.8,654.4" fill="none" stroke="#b2e5f9" stroke-width="2.0" stroke-linejoin="round" stroke-linecap="butt"/><polyline points="730.4,608.6 753.6,628.1 776.7,647.5 799.9,649.8 823.0,650.9 846.2,657.8 869.3,657.3 892.5,657.8 915.6,657.8 938.8,655.1" fill="none" stroke="#b9e7fa" stroke-width="2.0" stroke-linejoin="round" stroke-linecap="butt"/><polyline points="730.4,609.7 753.6,630.3 776.7,655.1 799.9,657.8 823.0,658.9 846.2,664.2 869.3,663.5 892.5,663.5 915.6,663.5 938.8,661.9" fill="none" stroke="#bee9fa" stroke-width="2.0" stroke-linejoin="round" stroke-linecap="butt"/><polyline points="730.4,624.6 753.6,645.2 776.7,668.8 799.9,671.5 823.0,672.0 846.2,677.3 869.3,677.3 892.5,677.3 915.6,676.1 938.8,675.0" fill="none" stroke="#c6ecfb" stroke-width="2.0" stroke-linejoin="round" stroke-linecap="butt"/><polyline points="730.4,639.5 753.6,667.0 776.7,695.6 799.9,699.0 823.0,699.5 846.2,706.3 869.3,706.3 892.5,706.3 915.6,705.9 938.8,702.9" fill="none" stroke="#d2f0fc" stroke-width="2.0" stroke-linejoin="round" stroke-linecap="butt"/><polyline points="730.4,641.8 753.6,669.2 776.7,697.8 799.9,700.8 823.0,701.3 846.2,708.1 869.3,707.7 892.5,707.7 915.6,707.2 938.8,704.3" fill="none" stroke="#d4f0fc" stroke-width="2.0" stroke-linejoin="round" stroke-linecap="butt"/><polyline points="730.4,644.1 753.6,671.5 776.7,700.1 799.9,703.1 823.0,703.6 846.2,710.0 869.3,709.5 892.5,709.5 915.6,709.3 938.8,705.9" fill="none" stroke="#d5f1fc" stroke-width="2.0" stroke-linejoin="round" stroke-linecap="butt"/><polyline points="730.4,649.8 753.6,676.1 776.7,704.7 799.9,707.7 823.0,708.1 846.2,713.9 869.3,713.4 892.5,713.4 915.6,713.2 938.8,710.0" fill="none" stroke="#d6f1fc" stroke-width="2.0" stroke-linejoin="round" stroke-linecap="butt"/></g>
<polyline points="730.4,479.6 753.6,497.9 776.7,526.5 799.9,526.5 823.0,524.2 846.2,533.4 869.3,532.2 892.5,532.2 915.6,531.8 938.8,530.6" fill="none" stroke="#000" stroke-width="4.1" stroke-linejoin="round" stroke-linecap="round"/>
<rect x="720.0" y="11.5" width="229.2" height="753.8" fill="none" stroke="#333" stroke-width="1.8"/>
<g font-family='"Liberation Sans", Arial, sans-serif' font-size="16.6" fill="#4d4d4d"><line x1="714.40" y1="731.60" x2="720.0" y2="731.60" stroke="#333" stroke-width="1.8"/><text x="710.30" y="738.10" text-anchor="end">0</text><line x1="714.40" y1="560.00" x2="720.0" y2="560.00" stroke="#333" stroke-width="1.8"/><text x="710.30" y="566.50" text-anchor="end">250</text><line x1="714.40" y1="388.40" x2="720.0" y2="388.40" stroke="#333" stroke-width="1.8"/><text x="710.30" y="394.90" text-anchor="end">500</text><line x1="714.40" y1="216.80" x2="720.0" y2="216.80" stroke="#333" stroke-width="1.8"/><text x="710.30" y="223.30" text-anchor="end">750</text><line x1="714.40" y1="45.20" x2="720.0" y2="45.20" stroke="#333" stroke-width="1.8"/><text x="710.30" y="51.70" text-anchor="end">1000</text><line x1="727.90" y1="765.3" x2="727.90" y2="770.80" stroke="#333" stroke-width="1.8"/><text x="727.90" y="789.0" text-anchor="middle">0</text><line x1="781.73" y1="765.3" x2="781.73" y2="770.80" stroke="#333" stroke-width="1.8"/><text x="781.73" y="789.0" text-anchor="middle">100</text><line x1="835.56" y1="765.3" x2="835.56" y2="770.80" stroke="#333" stroke-width="1.8"/><text x="835.56" y="789.0" text-anchor="middle">200</text><line x1="889.39" y1="765.3" x2="889.39" y2="770.80" stroke="#333" stroke-width="1.8"/><text x="889.39" y="789.0" text-anchor="middle">300</text><line x1="943.22" y1="765.3" x2="943.22" y2="770.80" stroke="#333" stroke-width="1.8"/><text x="943.22" y="789.0" text-anchor="middle">400</text></g>
<text x="834.60" y="814.8" text-anchor="middle" font-family='"Liberation Sans", Arial, sans-serif' font-size="21.35" fill="#000">Cooling_Degree_Days</text>
<g><line x1="1095.73" y1="11.5" x2="1095.73" y2="765.3" stroke="#ebebeb" stroke-width="1.05"/><line x1="1175.78" y1="11.5" x2="1175.78" y2="765.3" stroke="#ebebeb" stroke-width="1.05"/><line x1="1255.83" y1="11.5" x2="1255.83" y2="765.3" stroke="#ebebeb" stroke-width="1.05"/><line x1="1044.0" y1="645.80" x2="1273.2" y2="645.80" stroke="#ebebeb" stroke-width="1.05"/><line x1="1044.0" y1="474.20" x2="1273.2" y2="474.20" stroke="#ebebeb" stroke-width="1.05"/><line x1="1044.0" y1="302.60" x2="1273.2" y2="302.60" stroke="#ebebeb" stroke-width="1.05"/><line x1="1044.0" y1="131.00" x2="1273.2" y2="131.00" stroke="#ebebeb" stroke-width="1.05"/><line x1="1055.70" y1="11.5" x2="1055.70" y2="765.3" stroke="#ebebeb" stroke-width="2.05"/><line x1="1135.75" y1="11.5" x2="1135.75" y2="765.3" stroke="#ebebeb" stroke-width="2.05"/><line x1="1215.80" y1="11.5" x2="1215.80" y2="765.3" stroke="#ebebeb" stroke-width="2.05"/><line x1="1044.0" y1="731.60" x2="1273.2" y2="731.60" stroke="#ebebeb" stroke-width="2.05"/><line x1="1044.0" y1="560.00" x2="1273.2" y2="560.00" stroke="#ebebeb" stroke-width="2.05"/><line x1="1044.0" y1="388.40" x2="1273.2" y2="388.40" stroke="#ebebeb" stroke-width="2.05"/><line x1="1044.0" y1="216.80" x2="1273.2" y2="216.80" stroke="#ebebeb" stroke-width="2.05"/><line x1="1044.0" y1="45.20" x2="1273.2" y2="45.20" stroke="#ebebeb" stroke-width="2.05"/></g>
<g><polyline points="1054.4,304.2 1077.6,291.6 1100.7,178.8 1123.9,279.0 1147.0,319.0 1170.2,328.9 1193.3,389.5 1216.5,423.9 1239.6,423.9 1262.8,424.3" fill="none" stroke="#0591d6" stroke-width="2.0" stroke-linejoin="round" stroke-linecap="butt"/><polyline points="1054.4,339.6 1077.6,324.3 1100.7,202.3 1123.9,304.9 1147.0,343.1 1170.2,352.9 1193.3,409.0 1216.5,481.6 1239.6,481.6 1262.8,481.6" fill="none" stroke="#0593d9" stroke-width="2.0" stroke-linejoin="round" stroke-linecap="butt"/><polyline points="1054.4,344.5 1077.6,332.3 1100.7,222.9 1123.9,327.8 1147.0,369.0 1170.2,380.4 1193.3,427.3 1216.5,493.1 1239.6,493.1 1262.8,493.1" fill="none" stroke="#0594da" stroke-width="2.0" stroke-linejoin="round" stroke-linecap="butt"/><polyline points="1054.4,349.0 1077.6,338.1 1100.7,228.6 1123.9,330.0 1147.0,375.8 1170.2,383.8 1193.3,438.7 1216.5,504.1 1239.6,504.1 1262.8,504.1" fill="none" stroke="#08a3ec" stroke-width="2.0" stroke-linejoin="round" stroke-linecap="butt"/><polyline points="1054.4,402.1 1077.6,390.3 1100.7,294.6 1123.9,376.1 1147.0,412.1 1170.2,416.0 1193.3,456.7 1216.5,506.4 1239.6,506.3 1262.8,507.1" fill="none" stroke="#11a7ed" stroke-width="2.0" stroke-linejoin="round" stroke-linecap="butt"/><polyline points="1054.4,404.4 1077.6,394.7 1100.7,295.0 1123.9,381.9 1147.0,412.6 1170.2,422.8 1193.3,470.5 1216.5,515.1 1239.6,514.8 1262.8,514.5" fill="none" stroke="#17a9ee" stroke-width="2.0" stroke-linejoin="round" stroke-linecap="butt"/><polyline points="1054.4,410.1 1077.6,398.6 1100.7,306.5 1123.9,389.9 1147.0,424.4 1170.2,431.8 1193.3,507.5 1216.5,535.0 1239.6,534.7 1262.8,534.7" fill="none" stroke="#1eacef" stroke-width="2.0" stroke-linejoin="round" stroke-linecap="butt"/><polyline points="1054.4,421.6 1077.6,413.4 1100.7,335.0 1123.9,403.9 1147.0,436.1 1170.2,444.2 1193.3,482.6 1216.5,536.6 1239.6,536.7 1262.8,536.9" fill="none" stroke="#21adf0" stroke-width="2.0" stroke-linejoin="round" stroke-linecap="butt"/><polyline points="1054.4,429.6 1077.6,420.2 1100.7,335.8 1123.9,407.0 1147.0,440.3 1170.2,442.7 1193.3,523.4 1216.5,543.0 1239.6,543.4 1262.8,543.1" fill="none" stroke="#28b0f1" stroke-width="2.0" stroke-linejoin="round" stroke-linecap="butt"/><polyline points="1054.4,436.5 1077.6,426.3 1100.7,342.6 1123.9,418.3 1147.0,448.2 1170.2,459.1 1193.3,526.8 1216.5,549.8 1239.6,549.8 1262.8,549.7" fill="none" stroke="#2db2f1" stroke-width="2.0" stroke-linejoin="round" stroke-linecap="butt"/><polyline points="1054.4,439.9 1077.6,431.3 1100.7,349.5 1123.9,419.6 1147.0,447.5 1170.2,455.6 1193.3,536.5 1216.5,563.1 1239.6,562.6 1262.8,562.4" fill="none" stroke="#32b4f2" stroke-width="2.0" stroke-linejoin="round" stroke-linecap="butt"/><polyline points="1054.4,442.2 1077.6,434.8 1100.7,363.2 1123.9,423.5 1147.0,453.5 1170.2,459.9 1193.3,525.7 1216.5,576.8 1239.6,577.3 1262.8,576.3" fill="none" stroke="#35b6f2" stroke-width="2.0" stroke-linejoin="round" stroke-linecap="butt"/><polyline points="1054.4,447.9 1077.6,439.7 1100.7,369.0 1123.9,428.8 1147.0,460.2 1170.2,463.2 1193.3,530.4 1216.5,580.0 1239.6,580.2 1262.8,579.7" fill="none" stroke="#39b7f3" stroke-width="2.0" stroke-linejoin="round" stroke-linecap="butt"/><polyline points="1054.4,453.6 1077.6,446.2 1100.7,377.0 1123.9,439.2 1147.0,460.6 1170.2,466.3 1193.3,528.3 1216.5,582.3 1239.6,582.6 1262.8,582.5" fill="none" stroke="#40bbf3" stroke-width="2.0" stroke-linejoin="round" stroke-linecap="butt"/><polyline points="1054.4,455.9 1077.6,447.4 1100.7,381.5 1123.9,438.5 1147.0,463.7 1170.2,473.4 1193.3,521.6 1216.5,583.4 1239.6,583.6 1262.8,584.0" fill="none" stroke="#49bef4" stroke-width="2.0" stroke-linejoin="round" stroke-linecap="butt"/><polyline points="1054.4,459.3 1077.6,454.0 1100.7,388.4 1123.9,445.1 1147.0,474.9 1170.2,471.5 1193.3,544.8 1216.5,601.5 1239.6,602.0 1262.8,601.9" fill="none" stroke="#4cc0f4" stroke-width="2.0" stroke-linejoin="round" stroke-linecap="butt"/><polyline points="1054.4,462.8 1077.6,458.0 1100.7,418.1 1123.9,455.6 1147.0,475.0 1170.2,484.6 1193.3,552.2 1216.5,611.2 1239.6,610.9 1262.8,611.1" fill="none" stroke="#58c5f5" stroke-width="2.0" stroke-linejoin="round" stroke-linecap="butt"/><polyline points="1054.4,488.1 1077.6,480.6 1100.7,427.3 1123.9,474.0 1147.0,503.7 1170.2,504.1 1193.3,551.2 1216.5,613.5 1239.6,613.0 1262.8,613.0" fill="none" stroke="#62c9f5" stroke-width="2.0" stroke-linejoin="round" stroke-linecap="butt"/><polyline points="1054.4,492.6 1077.6,488.1 1100.7,436.5 1123.9,479.4 1147.0,501.5 1170.2,505.8 1193.3,609.8 1216.5,631.5 1239.6,631.4 1262.8,631.0" fill="none" stroke="#6acdf6" stroke-width="2.0" stroke-linejoin="round" stroke-linecap="butt"/><polyline points="1054.4,498.4 1077.6,490.8 1100.7,440.0 1123.9,482.9 1147.0,506.1 1170.2,518.5 1193.3,573.6 1216.5,634.5 1239.6,634.0 1262.8,634.5" fill="none" stroke="#6ecef6" stroke-width="2.0" stroke-linejoin="round" stroke-linecap="butt"/><polyline points="1054.4,509.8 1077.6,502.1 1100.7,443.0 1123.9,498.1 1147.0,517.0 1170.2,528.2 1193.3,611.9 1216.5,642.2 1239.6,642.1 1262.8,643.0" fill="none" stroke="#7bd3f7" stroke-width="2.0" stroke-linejoin="round" stroke-linecap="butt"/><polyline points="1054.4,518.9 1077.6,511.6 1100.7,447.0 1123.9,501.5 1147.0,529.0 1170.2,531.3 1193.3,599.6 1216.5,643.6 1239.6,643.3 1262.8,644.2" fill="none" stroke="#82d5f7" stroke-width="2.0" stroke-linejoin="round" stroke-linecap="butt"/><polyline points="1054.4,524.7 1077.6,518.6 1100.7,450.2 1123.9,508.3 1147.0,531.0 1170.2,539.8 1193.3,598.3 1216.5,650.5 1239.6,650.2 1262.8,650.1" fill="none" stroke="#89d7f7" stroke-width="2.0" stroke-linejoin="round" stroke-linecap="butt"/><polyline points="1054.4,529.2 1077.6,522.9 1100.7,451.4 1123.9,509.9 1147.0,535.7 1170.2,552.3 1193.3,615.0 1216.5,652.1 1239.6,652.6 1262.8,651.9" fill="none" stroke="#96dbf8" stroke-width="2.0" stroke-linejoin="round" stroke-linecap="butt"/><polyline points="1054.4,533.8 1077.6,528.4 1100.7,463.9 1123.9,519.3 1147.0,547.7 1170.2,554.7 1193.3,619.1 1216.5,660.6 1239.6,660.2 1262.8,660.1" fill="none" stroke="#a3e0f8" stroke-width="2.0" stroke-linejoin="round" stroke-linecap="butt"/><polyline points="1054.4,536.1 1077.6,530.7 1100.7,467.5 1123.9,523.4 1147.0,551.3 1170.2,552.1 1193.3,639.2 1216.5,677.3 1239.6,677.6 1262.8,677.5" fill="none" stroke="#ace3f9" stroke-width="2.0" stroke-linejoin="round" stroke-linecap="butt"/><polyline points="1054.4,545.3 1077.6,539.2 1100.7,472.0 1123.9,529.3 1147.0,557.8 1170.2,565.5 1193.3,628.7 1216.5,685.7 1239.6,686.1 1262.8,686.4" fill="none" stroke="#b1e4f9" stroke-width="2.0" stroke-linejoin="round" stroke-linecap="butt"/><polyline points="1054.4,555.6 1077.6,547.3 1100.7,489.2 1123.9,543.8 1147.0,571.2 1170.2,575.6 1193.3,628.6 1216.5,697.2 1239.6,697.6 1262.8,696.6" fill="none" stroke="#bfe9fa" stroke-width="2.0" stroke-linejoin="round" stroke-linecap="butt"/><polyline points="1054.4,570.4 1077.6,564.7 1100.7,494.9 1123.9,554.8 1147.0,577.0 1170.2,584.4 1193.3,667.6 1216.5,705.0 1239.6,705.1 1262.8,705.4" fill="none" stroke="#c5ebfb" stroke-width="2.0" stroke-linejoin="round" stroke-linecap="butt"/><polyline points="1054.4,580.7 1077.6,575.2 1100.7,508.6 1123.9,563.1 1147.0,586.7 1170.2,603.8 1193.3,645.9 1216.5,710.0 1239.6,710.4 1262.8,709.4" fill="none" stroke="#c6ecfb" stroke-width="2.0" stroke-linejoin="round" stroke-linecap="butt"/><polyline points="1054.4,586.5 1077.6,580.6 1100.7,515.5 1123.9,572.6 1147.0,601.3 1170.2,605.1 1193.3,688.1 1216.5,712.3 1239.6,712.0 1262.8,712.6" fill="none" stroke="#c8ecfb" stroke-width="2.0" stroke-linejoin="round" stroke-linecap="butt"/></g>
<polyline points="1054.4,477.8 1077.6,469.3 1100.7,401.0 1123.9,464.0 1147.0,489.2 1170.2,494.5 1193.3,552.1 1216.5,597.4 1239.6,597.9 1262.8,597.9" fill="none" stroke="#000" stroke-width="4.1" stroke-linejoin="round" stroke-linecap="round"/>
<rect x="1044.0" y="11.5" width="229.2" height="753.8" fill="none" stroke="#333" stroke-width="1.8"/>
<g font-family='"Liberation Sans", Arial, sans-serif' font-size="16.6" fill="#4d4d4d"><line x1="1038.40" y1="731.60" x2="1044.0" y2="731.60" stroke="#333" stroke-width="1.8"/><text x="1034.30" y="738.10" text-anchor="end">0</text><line x1="1038.40" y1="560.00" x2="1044.0" y2="560.00" stroke="#333" stroke-width="1.8"/><text x="1034.30" y="566.50" text-anchor="end">250</text><line x1="1038.40" y1="388.40" x2="1044.0" y2="388.40" stroke="#333" stroke-width="1.8"/><text x="1034.30" y="394.90" text-anchor="end">500</text><line x1="1038.40" y1="216.80" x2="1044.0" y2="216.80" stroke="#333" stroke-width="1.8"/><text x="1034.30" y="223.30" text-anchor="end">750</text><line x1="1038.40" y1="45.20" x2="1044.0" y2="45.20" stroke="#333" stroke-width="1.8"/><text x="1034.30" y="51.70" text-anchor="end">1000</text><line x1="1055.70" y1="765.3" x2="1055.70" y2="770.80" stroke="#333" stroke-width="1.8"/><text x="1055.70" y="789.0" text-anchor="middle">-4</text><line x1="1135.75" y1="765.3" x2="1135.75" y2="770.80" stroke="#333" stroke-width="1.8"/><text x="1135.75" y="789.0" text-anchor="middle">-3</text><line x1="1215.80" y1="765.3" x2="1215.80" y2="770.80" stroke="#333" stroke-width="1.8"/><text x="1215.80" y="789.0" text-anchor="middle">-2</text></g>
<text x="1158.60" y="814.8" text-anchor="middle" font-family='"Liberation Sans", Arial, sans-serif' font-size="21.35" fill="#000">PDSI</text>
<g><line x1="1407.70" y1="11.5" x2="1407.70" y2="765.3" stroke="#ebebeb" stroke-width="1.05"/><line x1="1465.50" y1="11.5" x2="1465.50" y2="765.3" stroke="#ebebeb" stroke-width="1.05"/><line x1="1523.30" y1="11.5" x2="1523.30" y2="765.3" stroke="#ebebeb" stroke-width="1.05"/><line x1="1581.10" y1="11.5" x2="1581.10" y2="765.3" stroke="#ebebeb" stroke-width="1.05"/><line x1="1368.0" y1="645.80" x2="1597.2" y2="645.80" stroke="#ebebeb" stroke-width="1.05"/><line x1="1368.0" y1="474.20" x2="1597.2" y2="474.20" stroke="#ebebeb" stroke-width="1.05"/><line x1="1368.0" y1="302.60" x2="1597.2" y2="302.60" stroke="#ebebeb" stroke-width="1.05"/><line x1="1368.0" y1="131.00" x2="1597.2" y2="131.00" stroke="#ebebeb" stroke-width="1.05"/><line x1="1378.80" y1="11.5" x2="1378.80" y2="765.3" stroke="#ebebeb" stroke-width="2.05"/><line x1="1436.60" y1="11.5" x2="1436.60" y2="765.3" stroke="#ebebeb" stroke-width="2.05"/><line x1="1494.40" y1="11.5" x2="1494.40" y2="765.3" stroke="#ebebeb" stroke-width="2.05"/><line x1="1552.20" y1="11.5" x2="1552.20" y2="765.3" stroke="#ebebeb" stroke-width="2.05"/><line x1="1368.0" y1="731.60" x2="1597.2" y2="731.60" stroke="#ebebeb" stroke-width="2.05"/><line x1="1368.0" y1="560.00" x2="1597.2" y2="560.00" stroke="#ebebeb" stroke-width="2.05"/><line x1="1368.0" y1="388.40" x2="1597.2" y2="388.40" stroke="#ebebeb" stroke-width="2.05"/><line x1="1368.0" y1="216.80" x2="1597.2" y2="216.80" stroke="#ebebeb" stroke-width="2.05"/><line x1="1368.0" y1="45.20" x2="1597.2" y2="45.20" stroke="#ebebeb" stroke-width="2.05"/></g>
<g><polyline points="1378.4,272.6 1401.6,233.3 1424.7,229.6 1447.9,309.2 1471.0,300.1 1494.2,312.7 1517.3,316.6 1540.5,317.3 1563.6,317.3 1586.8,317.3" fill="none" stroke="#048ed3" stroke-width="2.0" stroke-linejoin="round" stroke-linecap="butt"/><polyline points="1378.4,309.7 1401.6,263.5 1424.7,253.9 1447.9,329.8 1471.0,314.5 1494.2,329.8 1517.3,336.7 1540.5,337.4 1563.6,337.4 1586.8,337.4" fill="none" stroke="#058fd4" stroke-width="2.0" stroke-linejoin="round" stroke-linecap="butt"/><polyline points="1378.4,310.4 1401.6,272.2 1424.7,272.2 1447.9,350.4 1471.0,333.3 1494.2,348.1 1517.3,352.7 1540.5,352.7 1563.6,352.7 1586.8,352.7" fill="none" stroke="#0590d6" stroke-width="2.0" stroke-linejoin="round" stroke-linecap="butt"/><polyline points="1378.4,325.3 1401.6,280.0 1424.7,273.8 1447.9,357.8 1471.0,342.9 1494.2,355.0 1517.3,361.9 1540.5,361.9 1563.6,361.9 1586.8,361.9" fill="none" stroke="#0697de" stroke-width="2.0" stroke-linejoin="round" stroke-linecap="butt"/><polyline points="1378.4,530.8 1401.6,511.6 1424.7,521.8 1447.9,552.2 1471.0,530.0 1494.2,538.0 1517.3,540.3 1540.5,540.9 1563.6,540.9 1586.8,540.9" fill="none" stroke="#66cbf6" stroke-width="2.0" stroke-linejoin="round" stroke-linecap="butt"/><polyline points="1378.4,544.3 1401.6,531.3 1424.7,539.8 1447.9,565.8 1471.0,539.1 1494.2,542.6 1517.3,546.0 1540.5,546.5 1563.6,546.5 1586.8,546.5" fill="none" stroke="#6ccef6" stroke-width="2.0" stroke-linejoin="round" stroke-linecap="butt"/><polyline points="1378.4,547.7 1401.6,537.6 1424.7,541.5 1447.9,575.9 1471.0,540.3 1494.2,552.9 1517.3,556.3 1540.5,557.0 1563.6,557.0 1586.8,557.0" fill="none" stroke="#71cff6" stroke-width="2.0" stroke-linejoin="round" stroke-linecap="butt"/><polyline points="1378.4,553.4 1401.6,543.8 1424.7,550.5 1447.9,581.6 1471.0,549.4 1494.2,555.2 1517.3,557.0 1540.5,557.4 1563.6,557.4 1586.8,557.4" fill="none" stroke="#7cd3f7" stroke-width="2.0" stroke-linejoin="round" stroke-linecap="butt"/><polyline points="1378.4,592.9 1401.6,527.4 1424.7,484.5 1447.9,533.0 1471.0,550.6 1494.2,557.4 1517.3,562.0 1540.5,562.7 1563.6,562.7 1586.8,562.7" fill="none" stroke="#80d4f7" stroke-width="2.0" stroke-linejoin="round" stroke-linecap="butt"/><polyline points="1378.4,574.6 1401.6,562.0 1424.7,567.8 1447.9,598.6 1471.0,564.3 1494.2,575.8 1517.3,578.1 1540.5,578.1 1563.6,578.1 1586.8,578.1" fill="none" stroke="#8ad7f7" stroke-width="2.0" stroke-linejoin="round" stroke-linecap="butt"/><polyline points="1378.4,578.1 1401.6,564.3 1424.7,568.9 1447.9,603.2 1471.0,575.8 1494.2,587.2 1517.3,590.0 1540.5,590.0 1563.6,590.0 1586.8,590.0" fill="none" stroke="#90d9f8" stroke-width="2.0" stroke-linejoin="round" stroke-linecap="butt"/><polyline points="1378.4,581.5 1401.6,575.8 1424.7,578.1 1447.9,611.2 1471.0,589.5 1494.2,606.7 1517.3,611.9 1540.5,612.4 1563.6,612.4 1586.8,612.4" fill="none" stroke="#a2dff8" stroke-width="2.0" stroke-linejoin="round" stroke-linecap="butt"/><polyline points="1378.4,608.9 1401.6,586.1 1424.7,563.2 1447.9,598.6 1471.0,606.7 1494.2,623.8 1517.3,629.5 1540.5,630.7 1563.6,630.7 1586.8,631.1" fill="none" stroke="#ace3f9" stroke-width="2.0" stroke-linejoin="round" stroke-linecap="butt"/><polyline points="1378.4,600.9 1401.6,591.8 1424.7,595.2 1447.9,617.0 1471.0,614.7 1494.2,634.1 1517.3,642.1 1540.5,643.3 1563.6,643.7 1586.8,643.7" fill="none" stroke="#b4e5f9" stroke-width="2.0" stroke-linejoin="round" stroke-linecap="butt"/><polyline points="1378.4,603.2 1401.6,596.4 1424.7,598.6 1447.9,618.1 1471.0,619.2 1494.2,635.3 1517.3,650.1 1540.5,651.3 1563.6,651.7 1586.8,652.4" fill="none" stroke="#b9e7fa" stroke-width="2.0" stroke-linejoin="round" stroke-linecap="butt"/><polyline points="1378.4,623.8 1401.6,614.7 1424.7,619.2 1447.9,642.1 1471.0,641.0 1494.2,659.3 1517.3,660.4 1540.5,660.4 1563.6,660.4 1586.8,660.4" fill="none" stroke="#c3ebfb" stroke-width="2.0" stroke-linejoin="round" stroke-linecap="butt"/><polyline points="1378.4,627.3 1401.6,617.0 1424.7,621.5 1447.9,654.7 1471.0,642.1 1494.2,667.3 1517.3,675.3 1540.5,676.0 1563.6,676.5 1586.8,676.5" fill="none" stroke="#cbedfb" stroke-width="2.0" stroke-linejoin="round" stroke-linecap="butt"/><polyline points="1378.4,630.7 1401.6,620.4 1424.7,626.1 1447.9,671.9 1471.0,674.2 1494.2,693.6 1517.3,697.0 1540.5,697.5 1563.6,697.5 1586.8,697.5" fill="none" stroke="#d0effc" stroke-width="2.0" stroke-linejoin="round" stroke-linecap="butt"/><polyline points="1378.4,633.0 1401.6,623.8 1424.7,630.7 1447.9,685.6 1471.0,687.9 1494.2,709.6 1517.3,711.9 1540.5,711.9 1563.6,711.9 1586.8,711.9" fill="none" stroke="#d2f0fc" stroke-width="2.0" stroke-linejoin="round" stroke-linecap="butt"/><polyline points="1378.4,637.6 1401.6,633.0 1424.7,636.4 1447.9,686.8 1471.0,689.0 1494.2,710.8 1517.3,713.1 1540.5,713.1 1563.6,713.1 1586.8,713.1" fill="none" stroke="#d3f0fc" stroke-width="2.0" stroke-linejoin="round" stroke-linecap="butt"/><polyline points="1378.4,392.7 1401.6,352.7 1424.7,364.9 1447.9,401.7 1471.0,382.4 1494.2,397.4 1517.3,401.3 1540.5,400.8 1563.6,400.8 1586.8,400.8" fill="none" stroke="#08a3ec" stroke-width="2.0" stroke-linejoin="round" stroke-linecap="butt"/><polyline points="1378.4,404.7 1401.6,368.6 1424.7,354.7 1447.9,401.7 1471.0,388.4 1494.2,399.7 1517.3,401.9 1540.5,404.7 1563.6,404.7 1586.8,404.7" fill="none" stroke="#0ea5ed" stroke-width="2.0" stroke-linejoin="round" stroke-linecap="butt"/><polyline points="1378.4,422.8 1401.6,384.8 1424.7,347.5 1447.9,407.1 1471.0,404.7 1494.2,401.9 1517.3,408.1 1540.5,410.9 1563.6,410.9 1586.8,410.9" fill="none" stroke="#13a7ee" stroke-width="2.0" stroke-linejoin="round" stroke-linecap="butt"/><polyline points="1378.4,408.3 1401.6,374.6 1424.7,373.4 1447.9,415.5 1471.0,408.3 1494.2,417.7 1517.3,422.2 1540.5,422.8 1563.6,422.8 1586.8,422.8" fill="none" stroke="#17a9ee" stroke-width="2.0" stroke-linejoin="round" stroke-linecap="butt"/><polyline points="1378.4,419.2 1401.6,388.4 1424.7,385.4 1447.9,421.6 1471.0,411.9 1494.2,418.8 1517.3,423.4 1540.5,423.9 1563.6,423.9 1586.8,423.9" fill="none" stroke="#19aaef" stroke-width="2.0" stroke-linejoin="round" stroke-linecap="butt"/><polyline points="1378.4,432.0 1401.6,401.7 1424.7,400.5 1447.9,426.4 1471.0,415.5 1494.2,420.0 1517.3,424.0 1540.5,425.0 1563.6,425.0 1586.8,425.0" fill="none" stroke="#1facef" stroke-width="2.0" stroke-linejoin="round" stroke-linecap="butt"/><polyline points="1378.4,437.0 1401.6,414.0 1424.7,407.1 1447.9,428.0 1471.0,419.2 1494.2,426.7 1517.3,432.4 1540.5,433.5 1563.6,433.5 1586.8,433.5" fill="none" stroke="#23aef0" stroke-width="2.0" stroke-linejoin="round" stroke-linecap="butt"/><polyline points="1378.4,445.0 1401.6,420.0 1424.7,414.3 1447.9,430.0 1471.0,426.4 1494.2,429.0 1517.3,435.8 1540.5,436.3 1563.6,436.3 1586.8,436.3" fill="none" stroke="#27aff0" stroke-width="2.0" stroke-linejoin="round" stroke-linecap="butt"/><polyline points="1378.4,452.1 1401.6,439.7 1424.7,439.1 1447.9,462.2 1471.0,435.2 1494.2,441.9 1517.3,447.6 1540.5,448.7 1563.6,448.7 1586.8,448.7" fill="none" stroke="#2eb3f2" stroke-width="2.0" stroke-linejoin="round" stroke-linecap="butt"/><polyline points="1378.4,454.3 1401.6,443.6 1424.7,430.1 1447.9,458.9 1471.0,427.3 1494.2,435.2 1517.3,443.6 1540.5,445.9 1563.6,445.9 1586.8,445.9" fill="none" stroke="#2cb2f1" stroke-width="2.0" stroke-linejoin="round" stroke-linecap="butt"/><polyline points="1378.4,457.7 1401.6,445.3 1424.7,452.1 1447.9,466.2 1471.0,442.5 1494.2,456.6 1517.3,465.6 1540.5,466.8 1563.6,466.8 1586.8,466.8" fill="none" stroke="#32b4f2" stroke-width="2.0" stroke-linejoin="round" stroke-linecap="butt"/><polyline points="1378.4,474.7 1401.6,462.2 1424.7,463.9 1447.9,487.1 1471.0,457.2 1494.2,471.3 1517.3,480.9 1540.5,482.8 1563.6,482.8 1586.8,482.8" fill="none" stroke="#38b7f3" stroke-width="2.0" stroke-linejoin="round" stroke-linecap="butt"/><polyline points="1378.4,483.7 1401.6,475.8 1424.7,484.2 1447.9,530.0 1471.0,488.8 1494.2,497.2 1517.3,499.5 1540.5,500.8 1563.6,500.8 1586.8,500.8" fill="none" stroke="#46bdf4" stroke-width="2.0" stroke-linejoin="round" stroke-linecap="butt"/><polyline points="1378.4,486.8 1401.6,464.8 1424.7,480.3 1447.9,541.6 1471.0,496.1 1494.2,505.2 1517.3,508.0 1540.5,508.6 1563.6,508.6 1586.8,508.6" fill="none" stroke="#4abff4" stroke-width="2.0" stroke-linejoin="round" stroke-linecap="butt"/><polyline points="1378.4,513.9 1401.6,501.4 1424.7,512.7 1447.9,531.9 1471.0,495.8 1494.2,507.1 1517.3,515.0 1540.5,516.3 1563.6,516.6 1586.8,516.7" fill="none" stroke="#4dc0f4" stroke-width="2.0" stroke-linejoin="round" stroke-linecap="butt"/><polyline points="1378.4,516.1 1401.6,502.6 1424.7,514.4 1447.9,534.2 1471.0,498.1 1494.2,508.2 1517.3,515.9 1540.5,516.8 1563.6,517.0 1586.8,517.0" fill="none" stroke="#57c4f5" stroke-width="2.0" stroke-linejoin="round" stroke-linecap="butt"/><polyline points="1378.4,518.4 1401.6,503.7 1424.7,516.1 1447.9,542.1 1471.0,499.7 1494.2,509.3 1517.3,516.1 1540.5,517.0 1563.6,517.2 1586.8,517.2" fill="none" stroke="#5dc7f5" stroke-width="2.0" stroke-linejoin="round" stroke-linecap="butt"/></g>
<polyline points="1378.4,496.3 1401.6,474.1 1424.7,469.5 1447.9,522.2 1471.0,501.6 1494.2,515.3 1517.3,520.6 1540.5,521.0 1563.6,521.0 1586.8,521.0" fill="none" stroke="#000" stroke-width="4.1" stroke-linejoin="round" stroke-linecap="round"/>
<rect x="1368.0" y="11.5" width="229.2" height="753.8" fill="none" stroke="#333" stroke-width="1.8"/>
<g font-family='"Liberation Sans", Arial, sans-serif' font-size="16.6" fill="#4d4d4d"><line x1="1362.40" y1="731.60" x2="1368.0" y2="731.60" stroke="#333" stroke-width="1.8"/><text x="1358.30" y="738.10" text-anchor="end">0</text><line x1="1362.40" y1="560.00" x2="1368.0" y2="560.00" stroke="#333" stroke-width="1.8"/><text x="1358.30" y="566.50" text-anchor="end">250</text><line x1="1362.40" y1="388.40" x2="1368.0" y2="388.40" stroke="#333" stroke-width="1.8"/><text x="1358.30" y="394.90" text-anchor="end">500</text><line x1="1362.40" y1="216.80" x2="1368.0" y2="216.80" stroke="#333" stroke-width="1.8"/><text x="1358.30" y="223.30" text-anchor="end">750</text><line x1="1362.40" y1="45.20" x2="1368.0" y2="45.20" stroke="#333" stroke-width="1.8"/><text x="1358.30" y="51.70" text-anchor="end">1000</text><line x1="1378.80" y1="765.3" x2="1378.80" y2="770.80" stroke="#333" stroke-width="1.8"/><text x="1378.80" y="789.0" text-anchor="middle">-4</text><line x1="1436.60" y1="765.3" x2="1436.60" y2="770.80" stroke="#333" stroke-width="1.8"/><text x="1436.60" y="789.0" text-anchor="middle">-3</text><line x1="1494.40" y1="765.3" x2="1494.40" y2="770.80" stroke="#333" stroke-width="1.8"/><text x="1494.40" y="789.0" text-anchor="middle">-2</text><line x1="1552.20" y1="765.3" x2="1552.20" y2="770.80" stroke="#333" stroke-width="1.8"/><text x="1552.20" y="789.0" text-anchor="middle">-1</text></g>
<text x="1482.60" y="814.8" text-anchor="middle" font-family='"Liberation Sans", Arial, sans-serif' font-size="21.35" fill="#000">PMDI</text>
<g><line x1="1758.88" y1="11.5" x2="1758.88" y2="765.3" stroke="#ebebeb" stroke-width="1.05"/><line x1="1829.24" y1="11.5" x2="1829.24" y2="765.3" stroke="#ebebeb" stroke-width="1.05"/><line x1="1899.60" y1="11.5" x2="1899.60" y2="765.3" stroke="#ebebeb" stroke-width="1.05"/><line x1="1692.0" y1="645.80" x2="1921.2" y2="645.80" stroke="#ebebeb" stroke-width="1.05"/><line x1="1692.0" y1="474.20" x2="1921.2" y2="474.20" stroke="#ebebeb" stroke-width="1.05"/><line x1="1692.0" y1="302.60" x2="1921.2" y2="302.60" stroke="#ebebeb" stroke-width="1.05"/><line x1="1692.0" y1="131.00" x2="1921.2" y2="131.00" stroke="#ebebeb" stroke-width="1.05"/><line x1="1723.70" y1="11.5" x2="1723.70" y2="765.3" stroke="#ebebeb" stroke-width="2.05"/><line x1="1794.06" y1="11.5" x2="1794.06" y2="765.3" stroke="#ebebeb" stroke-width="2.05"/><line x1="1864.42" y1="11.5" x2="1864.42" y2="765.3" stroke="#ebebeb" stroke-width="2.05"/><line x1="1692.0" y1="731.60" x2="1921.2" y2="731.60" stroke="#ebebeb" stroke-width="2.05"/><line x1="1692.0" y1="560.00" x2="1921.2" y2="560.00" stroke="#ebebeb" stroke-width="2.05"/><line x1="1692.0" y1="388.40" x2="1921.2" y2="388.40" stroke="#ebebeb" stroke-width="2.05"/><line x1="1692.0" y1="216.80" x2="1921.2" y2="216.80" stroke="#ebebeb" stroke-width="2.05"/><line x1="1692.0" y1="45.20" x2="1921.2" y2="45.20" stroke="#ebebeb" stroke-width="2.05"/></g>
<g><polyline points="1702.4,171.3 1725.6,171.3 1748.7,168.3 1771.9,216.4 1795.0,223.2 1818.2,203.3 1841.3,207.2 1864.5,220.9 1887.6,215.2 1910.8,215.9" fill="none" stroke="#0489cd" stroke-width="2.0" stroke-linejoin="round" stroke-linecap="butt"/><polyline points="1702.4,185.0 1725.6,185.0 1748.7,182.5 1771.9,235.8 1795.0,240.4 1818.2,224.4 1841.3,227.8 1864.5,238.1 1887.6,231.9 1910.8,232.4" fill="none" stroke="#048ace" stroke-width="2.0" stroke-linejoin="round" stroke-linecap="butt"/><polyline points="1702.4,196.5 1725.6,196.5 1748.7,193.5 1771.9,237.0 1795.0,245.0 1818.2,225.5 1841.3,228.9 1864.5,239.2 1887.6,235.8 1910.8,236.5" fill="none" stroke="#048ace" stroke-width="2.0" stroke-linejoin="round" stroke-linecap="butt"/><polyline points="1702.4,230.1 1725.6,230.1 1748.7,227.8 1771.9,286.2 1795.0,300.6 1818.2,292.3 1841.3,291.2 1864.5,300.3 1887.6,291.9 1910.8,291.9" fill="none" stroke="#0592d7" stroke-width="2.0" stroke-linejoin="round" stroke-linecap="butt"/><polyline points="1702.4,316.7 1725.6,316.7 1748.7,314.9 1771.9,370.9 1795.0,378.9 1818.2,364.1 1841.3,365.2 1864.5,374.4 1887.6,359.5 1910.8,360.6" fill="none" stroke="#07a2eb" stroke-width="2.0" stroke-linejoin="round" stroke-linecap="butt"/><polyline points="1702.4,333.6 1725.6,333.6 1748.7,327.9 1771.9,372.8 1795.0,376.7 1818.2,368.2 1841.3,378.9 1864.5,393.4 1887.6,384.7 1910.8,384.2" fill="none" stroke="#09a3ec" stroke-width="2.0" stroke-linejoin="round" stroke-linecap="butt"/><polyline points="1702.4,354.2 1725.6,354.2 1748.7,351.5 1771.9,409.8 1795.0,419.0 1818.2,405.7 1841.3,413.3 1864.5,420.1 1887.6,398.4 1910.8,399.5" fill="none" stroke="#11a7ed" stroke-width="2.0" stroke-linejoin="round" stroke-linecap="butt"/><polyline points="1702.4,357.9 1725.6,357.9 1748.7,356.1 1771.9,414.4 1795.0,423.6 1818.2,413.3 1841.3,416.7 1864.5,424.7 1887.6,397.9 1910.8,399.5" fill="none" stroke="#16a9ee" stroke-width="2.0" stroke-linejoin="round" stroke-linecap="butt"/><polyline points="1702.4,368.6 1725.6,368.6 1748.7,366.4 1771.9,416.7 1795.0,424.7 1818.2,419.0 1841.3,409.8 1864.5,412.1 1887.6,382.4 1910.8,383.5" fill="none" stroke="#15a8ee" stroke-width="2.0" stroke-linejoin="round" stroke-linecap="butt"/><polyline points="1702.4,372.8 1725.6,372.8 1748.7,371.4 1771.9,423.6 1795.0,433.9 1818.2,419.0 1841.3,429.3 1864.5,437.3 1887.6,429.3 1910.8,428.8" fill="none" stroke="#1cabef" stroke-width="2.0" stroke-linejoin="round" stroke-linecap="butt"/><polyline points="1702.4,395.0 1725.6,395.0 1748.7,393.4 1771.9,437.3 1795.0,440.7 1818.2,438.4 1841.3,449.9 1864.5,451.0 1887.6,448.7 1910.8,448.7" fill="none" stroke="#23aef0" stroke-width="2.0" stroke-linejoin="round" stroke-linecap="butt"/><polyline points="1702.4,396.1 1725.6,396.1 1748.7,394.3 1771.9,447.6 1795.0,460.2 1818.2,446.5 1841.3,419.0 1864.5,424.7 1887.6,414.4 1910.8,414.4" fill="none" stroke="#24aef0" stroke-width="2.0" stroke-linejoin="round" stroke-linecap="butt"/><polyline points="1702.4,400.7 1725.6,400.7 1748.7,398.4 1771.9,448.7 1795.0,462.5 1818.2,448.7 1841.3,411.0 1864.5,422.4 1887.6,398.4 1910.8,398.9" fill="none" stroke="#28b0f1" stroke-width="2.0" stroke-linejoin="round" stroke-linecap="butt"/><polyline points="1702.4,418.5 1725.6,418.5 1748.7,415.6 1771.9,471.6 1795.0,477.3 1818.2,471.6 1841.3,480.8 1864.5,480.8 1887.6,455.6 1910.8,457.4" fill="none" stroke="#31b3f2" stroke-width="2.0" stroke-linejoin="round" stroke-linecap="butt"/><polyline points="1702.4,443.4 1725.6,443.4 1748.7,441.1 1771.9,474.3 1795.0,477.8 1818.2,472.0 1841.3,480.0 1864.5,477.8 1887.6,457.2 1910.8,457.8" fill="none" stroke="#3bb9f3" stroke-width="2.0" stroke-linejoin="round" stroke-linecap="butt"/><polyline points="1702.4,446.9 1725.6,446.9 1748.7,444.6 1771.9,484.6 1795.0,492.6 1818.2,489.2 1841.3,480.0 1864.5,478.9 1887.6,469.7 1910.8,470.9" fill="none" stroke="#45bdf3" stroke-width="2.0" stroke-linejoin="round" stroke-linecap="butt"/><polyline points="1702.4,450.3 1725.6,449.2 1748.7,445.7 1771.9,488.1 1795.0,497.2 1818.2,491.5 1841.3,477.8 1864.5,476.6 1887.6,457.2 1910.8,457.2" fill="none" stroke="#47bdf4" stroke-width="2.0" stroke-linejoin="round" stroke-linecap="butt"/><polyline points="1702.4,467.5 1725.6,467.5 1748.7,467.0 1771.9,518.9 1795.0,533.8 1818.2,530.4 1841.3,506.4 1864.5,508.6 1887.6,488.1 1910.8,488.5" fill="none" stroke="#50c1f4" stroke-width="2.0" stroke-linejoin="round" stroke-linecap="butt"/><polyline points="1702.4,490.8 1725.6,490.8 1748.7,489.9 1771.9,528.1 1795.0,540.7 1818.2,538.4 1841.3,533.8 1864.5,545.3 1887.6,520.1 1910.8,520.1" fill="none" stroke="#61c9f5" stroke-width="2.0" stroke-linejoin="round" stroke-linecap="butt"/><polyline points="1702.4,500.0 1725.6,500.0 1748.7,499.0 1771.9,559.0 1795.0,571.6 1818.2,559.0 1841.3,557.8 1864.5,560.1 1887.6,533.8 1910.8,533.8" fill="none" stroke="#69cdf6" stroke-width="2.0" stroke-linejoin="round" stroke-linecap="butt"/><polyline points="1702.4,502.9 1725.6,502.9 1748.7,501.8 1771.9,561.3 1795.0,577.3 1818.2,577.3 1841.3,549.8 1864.5,552.1 1887.6,528.1 1910.8,528.1" fill="none" stroke="#6ccef6" stroke-width="2.0" stroke-linejoin="round" stroke-linecap="butt"/><polyline points="1702.4,512.8 1725.6,512.8 1748.7,512.8 1771.9,568.1 1795.0,586.5 1818.2,581.9 1841.3,565.9 1864.5,567.0 1887.6,540.7 1910.8,540.7" fill="none" stroke="#72d0f6" stroke-width="2.0" stroke-linejoin="round" stroke-linecap="butt"/><polyline points="1702.4,515.5 1725.6,515.5 1748.7,515.5 1771.9,572.7 1795.0,591.0 1818.2,588.7 1841.3,587.6 1864.5,577.3 1887.6,545.7 1910.8,545.7" fill="none" stroke="#80d4f7" stroke-width="2.0" stroke-linejoin="round" stroke-linecap="butt"/><polyline points="1702.4,531.5 1725.6,531.5 1748.7,530.4 1771.9,579.6 1795.0,600.2 1818.2,595.6 1841.3,588.7 1864.5,599.0 1887.6,549.8 1910.8,550.3" fill="none" stroke="#85d6f7" stroke-width="2.0" stroke-linejoin="round" stroke-linecap="butt"/><polyline points="1702.4,554.4 1725.6,554.4 1748.7,554.4 1771.9,600.2 1795.0,610.5 1818.2,610.5 1841.3,611.6 1864.5,610.5 1887.6,600.2 1910.8,600.2" fill="none" stroke="#8fd9f7" stroke-width="2.0" stroke-linejoin="round" stroke-linecap="butt"/><polyline points="1702.4,585.0 1725.6,585.0 1748.7,585.0 1771.9,601.7 1795.0,609.7 1818.2,612.0 1841.3,613.2 1864.5,610.9 1887.6,600.1 1910.8,600.1" fill="none" stroke="#98dcf8" stroke-width="2.0" stroke-linejoin="round" stroke-linecap="butt"/><polyline points="1702.4,591.9 1725.6,591.9 1748.7,591.9 1771.9,628.1 1795.0,640.6 1818.2,644.1 1841.3,646.4 1864.5,644.1 1887.6,617.8 1910.8,617.8" fill="none" stroke="#a9e2f9" stroke-width="2.0" stroke-linejoin="round" stroke-linecap="butt"/><polyline points="1702.4,609.7 1725.6,609.7 1748.7,609.7 1771.9,634.9 1795.0,645.2 1818.2,647.5 1841.3,647.5 1864.5,647.5 1887.6,620.7 1910.8,621.6" fill="none" stroke="#b1e4f9" stroke-width="2.0" stroke-linejoin="round" stroke-linecap="butt"/><polyline points="1702.4,609.7 1725.6,609.7 1748.7,609.7 1771.9,654.4 1795.0,665.8 1818.2,671.1 1841.3,671.1 1864.5,667.6 1887.6,650.9 1910.8,652.1" fill="none" stroke="#bae7fa" stroke-width="2.0" stroke-linejoin="round" stroke-linecap="butt"/><polyline points="1702.4,623.9 1725.6,623.9 1748.7,623.9 1771.9,667.0 1795.0,680.7 1818.2,685.9 1841.3,685.9 1864.5,681.8 1887.6,662.8 1910.8,663.5" fill="none" stroke="#c0e9fa" stroke-width="2.0" stroke-linejoin="round" stroke-linecap="butt"/><polyline points="1702.4,629.9 1725.6,629.9 1748.7,629.9 1771.9,672.7 1795.0,689.8 1818.2,697.8 1841.3,698.5 1864.5,694.4 1887.6,671.5 1910.8,672.7" fill="none" stroke="#c9edfb" stroke-width="2.0" stroke-linejoin="round" stroke-linecap="butt"/><polyline points="1702.4,634.9 1725.6,634.9 1748.7,634.9 1771.9,683.0 1795.0,699.0 1818.2,707.0 1841.3,707.0 1864.5,702.4 1887.6,677.3 1910.8,677.3" fill="none" stroke="#d0effc" stroke-width="2.0" stroke-linejoin="round" stroke-linecap="butt"/><polyline points="1702.4,637.2 1725.6,637.2 1748.7,637.2 1771.9,685.3 1795.0,701.3 1818.2,708.6 1841.3,708.1 1864.5,703.6 1887.6,679.5 1910.8,680.7" fill="none" stroke="#d1effc" stroke-width="2.0" stroke-linejoin="round" stroke-linecap="butt"/><polyline points="1702.4,639.0 1725.6,639.0 1748.7,639.0 1771.9,687.6 1795.0,703.6 1818.2,710.4 1841.3,710.0 1864.5,705.4 1887.6,680.7 1910.8,681.8" fill="none" stroke="#d2f0fc" stroke-width="2.0" stroke-linejoin="round" stroke-linecap="butt"/><polyline points="1702.4,642.2 1725.6,642.2 1748.7,642.2 1771.9,689.8 1795.0,704.7 1818.2,713.9 1841.3,714.6 1864.5,710.4 1887.6,687.6 1910.8,688.7" fill="none" stroke="#d3f0fc" stroke-width="2.0" stroke-linejoin="round" stroke-linecap="butt"/><polyline points="1702.4,436.1 1725.6,436.1 1748.7,434.8 1771.9,449.7 1795.0,458.7 1818.2,453.0 1841.3,451.9 1864.5,450.8 1887.6,449.1 1910.8,449.1" fill="none" stroke="#2eb2f1" stroke-width="2.0" stroke-linejoin="round" stroke-linecap="butt"/><polyline points="1702.4,436.7 1725.6,436.7 1748.7,435.2 1771.9,450.8 1795.0,463.2 1818.2,458.7 1841.3,479.0 1864.5,479.0 1887.6,479.6 1910.8,479.6" fill="none" stroke="#34b5f2" stroke-width="2.0" stroke-linejoin="round" stroke-linecap="butt"/><polyline points="1702.4,492.5 1725.6,492.5 1748.7,491.5 1771.9,527.0 1795.0,525.3 1818.2,525.3 1841.3,532.9 1864.5,544.8 1887.6,504.7 1910.8,505.8" fill="none" stroke="#5ac5f5" stroke-width="2.0" stroke-linejoin="round" stroke-linecap="butt"/></g>
<polyline points="1702.4,456.7 1725.6,456.7 1748.7,455.3 1771.9,508.6 1795.0,521.7 1818.2,517.3 1841.3,512.8 1864.5,515.1 1887.6,493.8 1910.8,494.9" fill="none" stroke="#000" stroke-width="4.1" stroke-linejoin="round" stroke-linecap="round"/>
<rect x="1692.0" y="11.5" width="229.2" height="753.8" fill="none" stroke="#333" stroke-width="1.8"/>
<g font-family='"Liberation Sans", Arial, sans-serif' font-size="16.6" fill="#4d4d4d"><line x1="1686.40" y1="731.60" x2="1692.0" y2="731.60" stroke="#333" stroke-width="1.8"/><text x="1682.30" y="738.10" text-anchor="end">0</text><line x1="1686.40" y1="560.00" x2="1692.0" y2="560.00" stroke="#333" stroke-width="1.8"/><text x="1682.30" y="566.50" text-anchor="end">250</text><line x1="1686.40" y1="388.40" x2="1692.0" y2="388.40" stroke="#333" stroke-width="1.8"/><text x="1682.30" y="394.90" text-anchor="end">500</text><line x1="1686.40" y1="216.80" x2="1692.0" y2="216.80" stroke="#333" stroke-width="1.8"/><text x="1682.30" y="223.30" text-anchor="end">750</text><line x1="1686.40" y1="45.20" x2="1692.0" y2="45.20" stroke="#333" stroke-width="1.8"/><text x="1682.30" y="51.70" text-anchor="end">1000</text><line x1="1723.70" y1="765.3" x2="1723.70" y2="770.80" stroke="#333" stroke-width="1.8"/><text x="1723.70" y="789.0" text-anchor="middle">-4</text><line x1="1794.06" y1="765.3" x2="1794.06" y2="770.80" stroke="#333" stroke-width="1.8"/><text x="1794.06" y="789.0" text-anchor="middle">-2</text><line x1="1864.42" y1="765.3" x2="1864.42" y2="770.80" stroke="#333" stroke-width="1.8"/><text x="1864.42" y="789.0" text-anchor="middle">0</text></g>
<text x="1806.60" y="814.8" text-anchor="middle" font-family='"Liberation Sans", Arial, sans-serif' font-size="21.35" fill="#000">PZI</text>
<text transform="translate(16.4,387.75) rotate(-90)" text-anchor="middle" font-family='"Liberation Sans", Arial, sans-serif' font-size="21.35" fill="#000">pdp/ice</text>
<defs><linearGradient id="gb" x1="0" y1="347.0" x2="0" y2="513.6" gradientUnits="userSpaceOnUse"><stop offset="0.0078" stop-color="#025ca0"/><stop offset="0.0326" stop-color="#0262a6"/><stop offset="0.0872" stop-color="#036cb0"/><stop offset="0.1983" stop-color="#0385c8"/><stop offset="0.2559" stop-color="#048bcf"/><stop offset="0.3501" stop-color="#0698df"/><stop offset="0.4047" stop-color="#049fe8"/><stop offset="0.4692" stop-color="#08a3ec"/><stop offset="0.5337" stop-color="#1cabef"/><stop offset="0.5932" stop-color="#32b4f2"/><stop offset="0.6200" stop-color="#3ebaf3"/><stop offset="0.7113" stop-color="#5cc6f5"/><stop offset="0.7520" stop-color="#69cdf6"/><stop offset="0.8016" stop-color="#80d4f7"/><stop offset="0.8611" stop-color="#9edef8"/><stop offset="0.9206" stop-color="#bce8fa"/><stop offset="0.9802" stop-color="#d6f1fc"/><stop offset="1.0000" stop-color="#def4fd"/></linearGradient></defs>
<rect x="1956.2" y="347.0" width="33.90" height="166.60" fill="url(#gb)"/>
<line x1="1956.2" y1="513.60" x2="1963.7" y2="513.60" stroke="#fff" stroke-width="1.1"/><line x1="1982.8999999999999" y1="513.60" x2="1990.1" y2="513.60" stroke="#fff" stroke-width="1.1"/><line x1="1956.2" y1="472.28" x2="1963.7" y2="472.28" stroke="#fff" stroke-width="1.1"/><line x1="1982.8999999999999" y1="472.28" x2="1990.1" y2="472.28" stroke="#fff" stroke-width="1.1"/><line x1="1956.2" y1="430.95" x2="1963.7" y2="430.95" stroke="#fff" stroke-width="1.1"/><line x1="1982.8999999999999" y1="430.95" x2="1990.1" y2="430.95" stroke="#fff" stroke-width="1.1"/><line x1="1956.2" y1="389.62" x2="1963.7" y2="389.62" stroke="#fff" stroke-width="1.1"/><line x1="1982.8999999999999" y1="389.62" x2="1990.1" y2="389.62" stroke="#fff" stroke-width="1.1"/><line x1="1956.2" y1="348.30" x2="1963.7" y2="348.30" stroke="#fff" stroke-width="1.1"/><line x1="1982.8999999999999" y1="348.30" x2="1990.1" y2="348.30" stroke="#fff" stroke-width="1.1"/>
<g font-family='"Liberation Sans", Arial, sans-serif' font-size="17.2" fill="#000"><text x="2000.3" y="520.50">0</text><text x="2000.3" y="479.18">250</text><text x="2000.3" y="437.85">500</text><text x="2000.3" y="396.52">750</text><text x="2000.3" y="355.20">1000</text></g>
<text x="1957.0" y="335.8" font-family='"Liberation Sans", Arial, sans-serif' font-size="20.6" fill="#000">y-hat</text>
</svg>
</body></html>
